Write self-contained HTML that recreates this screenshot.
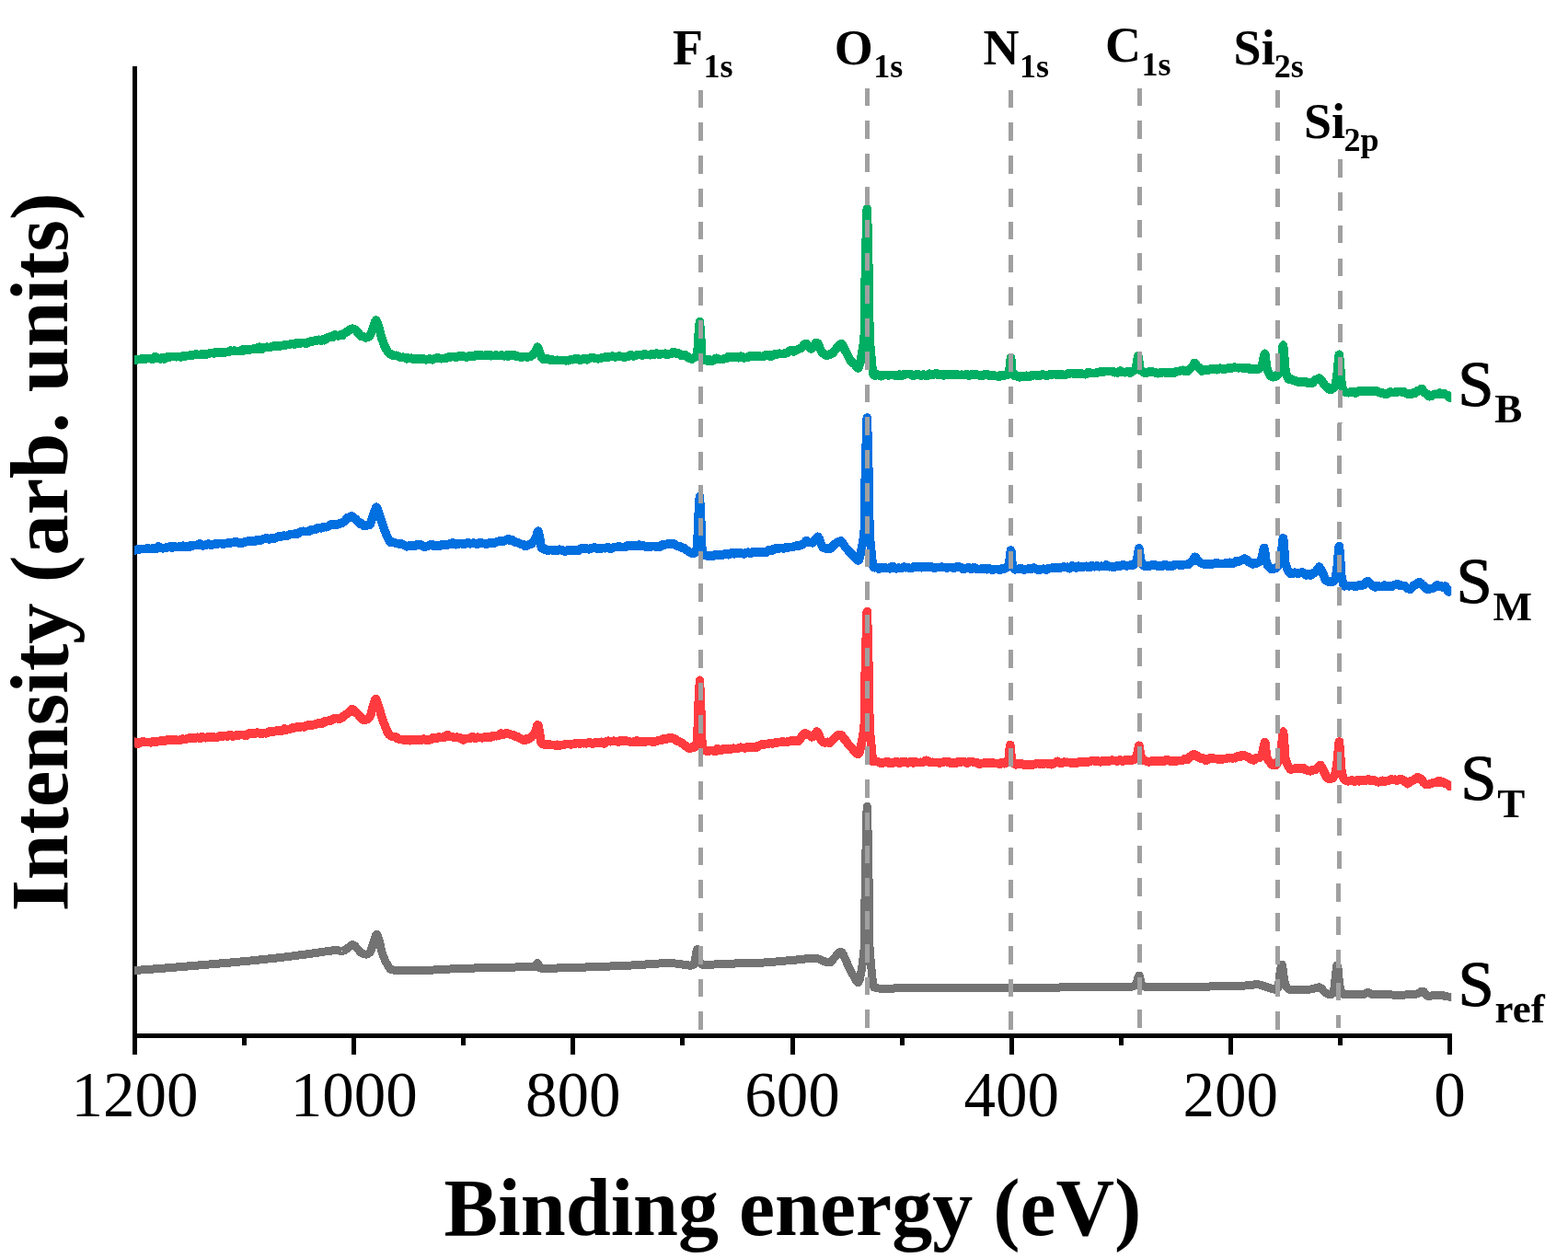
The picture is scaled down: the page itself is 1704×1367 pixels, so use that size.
<!DOCTYPE html>
<html lang="en">
<head>
<meta charset="utf-8">
<title>XPS survey spectra</title>
<style>
html,body{margin:0;padding:0;background:#fff;}
body{width:1704px;height:1367px;overflow:hidden;}
svg{display:block;}
text{font-family:"Liberation Serif","Times New Roman",serif;fill:#000;}
.b{font-weight:bold;}
.tick{font-size:69px;text-anchor:middle;}
.title{font-size:88px;font-weight:bold;text-anchor:middle;}
.pk{font-size:54px;font-weight:bold;}
.pk .s{font-size:36px;}
.lab{font-size:70.5px;stroke:#000;stroke-width:1px;stroke-linejoin:round;}
.lab .s{font-size:45px;font-weight:bold;stroke:none;}
.curve{shape-rendering:crispEdges;fill:none;stroke-width:9.5;stroke-linejoin:round;stroke-linecap:butt;}
.dash line{shape-rendering:crispEdges;stroke:#A0A0A0;stroke-width:5;stroke-dasharray:19.7 16.08;}
.ax rect{shape-rendering:crispEdges;fill:#000;}
</style>
</head>
<body>
<svg width="1704" height="1367" viewBox="0 0 1704 1367">
<rect width="1704" height="1367" fill="#fff"/>

<g class="ax">
<rect x="144" y="72" width="5" height="1056"/>
<rect x="144" y="1123" width="1434" height="5"/>
<rect x="144" y="1123" width="5" height="23"/>
<rect x="263" y="1123" width="5" height="13"/>
<rect x="382" y="1123" width="5" height="23"/>
<rect x="501" y="1123" width="5" height="13"/>
<rect x="620" y="1123" width="5" height="23"/>
<rect x="739" y="1123" width="5" height="13"/>
<rect x="859" y="1123" width="5" height="23"/>
<rect x="978" y="1123" width="5" height="13"/>
<rect x="1097" y="1123" width="5" height="23"/>
<rect x="1216" y="1123" width="5" height="13"/>
<rect x="1335" y="1123" width="5" height="23"/>
<rect x="1454" y="1123" width="5" height="13"/>
<rect x="1573" y="1123" width="5" height="23"/>
</g>
<clipPath id="plot"><rect x="146" y="60" width="1431.2" height="1062"/></clipPath>
<g class="curves" clip-path="url(#plot)">
<polyline class="curve" style="stroke-width:9" stroke="#737373" points="140.0,1054.9 141.2,1054.8 142.4,1054.8 143.6,1054.7 144.8,1054.6 146.0,1054.5 146.3,1054.5 147.2,1054.4 148.4,1054.4 149.6,1054.3 150.8,1054.2 152.0,1054.1 153.2,1054.0 154.4,1053.9 155.6,1053.8 156.8,1053.8 158.0,1053.7 159.2,1053.6 160.4,1053.5 161.6,1053.4 162.8,1053.3 164.0,1053.2 165.2,1053.1 166.4,1053.0 167.6,1052.9 168.8,1052.9 170.0,1052.8 171.2,1052.7 172.4,1052.6 173.6,1052.5 174.8,1052.4 176.0,1052.3 177.2,1052.2 178.4,1052.1 179.6,1052.0 180.8,1051.9 182.0,1051.8 183.2,1051.7 184.4,1051.6 185.6,1051.5 186.8,1051.4 188.0,1051.3 189.2,1051.2 190.4,1051.1 191.6,1051.0 192.8,1050.9 194.0,1050.8 195.2,1050.7 196.4,1050.6 197.6,1050.5 198.8,1050.4 200.0,1050.3 201.2,1050.2 202.4,1050.1 203.6,1050.0 204.8,1049.9 206.0,1049.8 207.2,1049.7 208.4,1049.6 209.6,1049.5 210.8,1049.4 212.0,1049.3 213.2,1049.2 214.4,1049.1 215.6,1049.0 216.8,1048.9 218.0,1048.8 219.2,1048.7 220.0,1048.6 220.4,1048.6 221.6,1048.5 222.8,1048.4 224.0,1048.3 225.2,1048.2 226.4,1048.1 227.6,1047.9 228.8,1047.8 230.0,1047.7 231.2,1047.6 232.4,1047.5 233.6,1047.4 234.8,1047.3 236.0,1047.2 237.2,1047.1 238.4,1047.0 239.6,1046.9 240.8,1046.8 242.0,1046.7 243.2,1046.6 244.4,1046.5 245.6,1046.4 246.8,1046.3 248.0,1046.2 249.2,1046.1 250.4,1046.0 251.6,1045.9 252.8,1045.7 254.0,1045.6 255.2,1045.5 256.4,1045.4 257.6,1045.3 258.8,1045.2 260.0,1045.1 261.2,1045.0 262.4,1044.9 263.6,1044.8 264.8,1044.6 266.0,1044.5 267.2,1044.4 268.4,1044.3 269.6,1044.2 270.8,1044.1 272.0,1044.0 273.2,1043.8 274.4,1043.7 275.6,1043.6 276.8,1043.5 278.0,1043.4 279.2,1043.3 280.4,1043.1 281.6,1043.0 282.8,1042.9 284.0,1042.8 285.2,1042.6 286.4,1042.5 287.6,1042.4 288.8,1042.3 290.0,1042.1 290.4,1042.1 291.2,1042.0 292.4,1041.9 293.6,1041.8 294.8,1041.6 296.0,1041.5 297.2,1041.4 298.4,1041.2 299.6,1041.1 300.8,1040.9 302.0,1040.8 303.2,1040.7 304.4,1040.5 305.6,1040.4 306.8,1040.2 308.0,1040.1 309.2,1040.0 310.4,1039.8 311.6,1039.7 312.8,1039.5 314.0,1039.4 315.2,1039.2 316.4,1039.1 317.6,1038.9 318.8,1038.8 320.0,1038.6 321.2,1038.5 322.4,1038.3 323.6,1038.2 324.8,1038.0 326.0,1037.8 327.2,1037.7 328.4,1037.5 329.6,1037.4 330.8,1037.2 332.0,1037.1 333.2,1036.9 334.4,1036.7 335.6,1036.6 336.8,1036.4 338.0,1036.3 339.2,1036.1 340.0,1036.0 340.4,1035.9 341.6,1035.8 342.8,1035.6 344.0,1035.4 345.2,1035.2 346.4,1035.0 347.6,1034.8 348.8,1034.7 350.0,1034.5 351.2,1034.3 352.4,1034.1 353.6,1033.9 354.8,1033.7 356.0,1033.6 357.2,1033.4 358.4,1033.3 359.6,1033.1 360.8,1033.0 360.8,1033.0 362.0,1032.9 363.2,1032.8 364.4,1032.7 365.6,1032.6 366.0,1032.6 366.8,1032.7 368.0,1032.9 369.2,1033.2 370.4,1033.4 371.5,1033.5 371.6,1033.5 372.8,1033.3 374.0,1032.8 375.2,1032.1 376.4,1031.3 377.0,1031.0 377.6,1030.6 378.8,1029.6 380.0,1028.5 381.2,1027.5 382.4,1026.8 383.4,1026.6 383.6,1026.6 384.8,1027.2 386.0,1028.3 387.2,1029.6 388.4,1030.9 388.5,1031.0 389.6,1032.2 390.8,1033.5 392.0,1034.8 393.0,1035.5 393.2,1035.6 394.4,1036.2 395.6,1036.7 396.8,1037.0 397.5,1037.1 398.0,1037.1 399.2,1036.8 400.4,1036.2 401.6,1035.3 402.0,1035.0 402.8,1033.7 404.0,1029.9 405.2,1025.9 405.5,1025.0 406.4,1022.3 407.6,1018.5 408.8,1015.8 409.4,1015.4 410.0,1016.0 411.2,1019.3 412.0,1022.0 412.4,1023.4 413.6,1028.4 414.8,1033.6 415.5,1036.0 416.0,1037.5 417.2,1040.6 418.4,1043.4 419.6,1045.8 420.0,1046.5 420.8,1047.9 422.0,1050.0 423.2,1051.8 424.4,1053.1 425.2,1053.5 425.6,1053.6 426.8,1053.9 428.0,1054.1 429.2,1054.3 430.0,1054.3 430.4,1054.3 431.6,1054.3 432.8,1054.3 434.0,1054.3 435.2,1054.3 436.4,1054.3 437.6,1054.4 438.8,1054.4 440.0,1054.4 441.2,1054.4 442.4,1054.4 443.6,1054.4 444.8,1054.4 446.0,1054.4 447.2,1054.4 448.4,1054.4 449.6,1054.4 450.8,1054.4 452.0,1054.4 453.2,1054.4 454.4,1054.4 455.6,1054.4 456.8,1054.4 457.0,1054.4 458.0,1054.4 459.2,1054.4 460.4,1054.4 461.6,1054.4 462.8,1054.3 464.0,1054.3 465.2,1054.3 466.4,1054.2 467.6,1054.2 468.8,1054.1 470.0,1054.1 471.2,1054.0 472.4,1053.9 473.6,1053.9 474.8,1053.8 476.0,1053.7 477.2,1053.7 478.4,1053.6 479.6,1053.5 480.8,1053.5 482.0,1053.4 483.2,1053.3 484.4,1053.2 485.6,1053.2 486.8,1053.1 488.0,1053.0 489.2,1053.0 490.4,1052.9 491.6,1052.8 492.8,1052.8 494.0,1052.7 495.2,1052.7 496.4,1052.6 497.6,1052.6 498.8,1052.5 499.2,1052.5 500.0,1052.5 501.2,1052.4 502.4,1052.4 503.6,1052.4 504.8,1052.3 506.0,1052.3 507.2,1052.2 508.4,1052.2 509.6,1052.2 510.8,1052.1 512.0,1052.1 513.2,1052.1 514.4,1052.0 515.6,1052.0 516.8,1051.9 518.0,1051.9 519.2,1051.9 520.4,1051.8 521.6,1051.8 522.8,1051.8 524.0,1051.7 525.2,1051.7 526.4,1051.7 527.6,1051.6 528.8,1051.6 530.0,1051.6 531.2,1051.5 532.4,1051.5 533.6,1051.5 534.8,1051.4 536.0,1051.4 537.2,1051.4 538.4,1051.4 539.6,1051.3 540.8,1051.3 542.0,1051.3 543.2,1051.2 544.4,1051.2 545.6,1051.2 546.8,1051.2 548.0,1051.1 549.2,1051.1 550.4,1051.1 551.6,1051.1 552.8,1051.1 554.0,1051.0 555.2,1051.0 556.4,1051.0 557.6,1051.0 558.8,1051.0 560.0,1051.0 561.2,1050.9 562.4,1050.9 563.6,1050.9 564.5,1050.9 564.8,1050.9 566.0,1050.9 567.2,1050.9 568.4,1050.9 569.6,1050.9 570.8,1050.9 572.0,1050.9 573.2,1050.9 574.4,1050.8 575.6,1050.8 576.8,1050.8 578.0,1050.8 578.5,1050.8 579.2,1050.8 580.4,1050.6 581.5,1050.4 581.6,1050.4 582.8,1048.1 583.9,1046.4 584.0,1046.4 585.2,1048.9 586.4,1051.5 586.5,1051.6 587.6,1052.0 588.8,1052.3 590.0,1052.5 591.2,1052.7 592.4,1052.7 592.5,1052.7 593.6,1052.7 594.8,1052.6 596.0,1052.5 597.2,1052.4 598.0,1052.3 598.4,1052.3 599.6,1052.2 600.8,1052.2 602.0,1052.1 603.2,1052.1 604.4,1052.0 605.6,1052.0 606.8,1051.9 608.0,1051.9 609.2,1051.9 610.4,1051.8 611.6,1051.8 612.8,1051.8 614.0,1051.7 615.2,1051.7 616.4,1051.7 617.6,1051.6 618.8,1051.6 620.0,1051.6 621.2,1051.5 622.4,1051.5 623.6,1051.4 624.8,1051.4 626.0,1051.4 627.2,1051.3 627.9,1051.3 628.4,1051.3 629.6,1051.2 630.8,1051.2 632.0,1051.2 633.2,1051.1 634.4,1051.1 635.6,1051.0 636.8,1051.0 638.0,1050.9 639.2,1050.9 640.4,1050.8 641.6,1050.8 642.8,1050.8 644.0,1050.7 645.2,1050.7 646.4,1050.6 647.6,1050.6 648.8,1050.5 650.0,1050.5 651.2,1050.4 652.4,1050.4 653.6,1050.3 654.8,1050.3 656.0,1050.2 657.2,1050.2 658.4,1050.1 659.6,1050.1 660.8,1050.1 662.0,1050.0 663.2,1050.0 664.4,1049.9 665.6,1049.9 666.8,1049.8 668.0,1049.8 669.2,1049.7 670.4,1049.7 671.6,1049.6 672.8,1049.6 674.0,1049.5 675.2,1049.4 676.4,1049.4 677.6,1049.3 678.8,1049.3 680.0,1049.2 681.2,1049.2 682.4,1049.1 683.6,1049.1 684.8,1049.0 686.0,1049.0 687.2,1048.9 688.4,1048.8 689.6,1048.8 690.8,1048.7 691.3,1048.7 692.0,1048.7 693.2,1048.6 694.4,1048.5 695.6,1048.5 696.8,1048.4 698.0,1048.3 699.2,1048.2 700.4,1048.1 701.6,1048.0 702.8,1047.9 704.0,1047.8 705.2,1047.7 706.4,1047.6 707.6,1047.6 708.8,1047.5 710.0,1047.4 711.2,1047.3 712.4,1047.2 713.6,1047.1 714.8,1047.0 716.0,1047.0 717.2,1046.9 718.4,1046.8 719.6,1046.8 720.8,1046.7 722.0,1046.7 723.2,1046.7 724.4,1046.6 725.6,1046.6 726.8,1046.6 727.2,1046.6 728.0,1046.6 729.2,1046.6 730.4,1046.7 731.6,1046.8 732.8,1046.9 734.0,1047.0 735.2,1047.1 736.4,1047.3 737.6,1047.5 738.8,1047.6 740.0,1047.8 741.2,1047.9 742.4,1048.1 743.6,1048.3 744.0,1048.3 744.8,1048.4 746.0,1048.6 747.2,1048.8 748.4,1049.0 749.6,1049.2 750.4,1049.2 750.8,1049.2 752.0,1049.0 753.2,1048.5 754.4,1047.6 754.5,1047.5 755.2,1044.0 755.6,1041.8 756.8,1034.4 757.8,1031.4 758.0,1031.6 759.2,1038.3 760.4,1045.6 760.6,1046.0 761.6,1047.0 762.8,1047.9 764.0,1048.3 764.2,1048.3 765.2,1048.3 766.4,1048.3 767.6,1048.3 768.8,1048.2 770.0,1048.2 771.2,1048.2 772.4,1048.1 773.6,1048.1 774.8,1048.0 776.0,1048.0 777.2,1047.9 778.4,1047.9 779.6,1047.8 780.8,1047.8 782.0,1047.7 783.2,1047.6 784.4,1047.6 785.6,1047.5 786.8,1047.4 788.0,1047.4 789.2,1047.3 790.4,1047.3 791.6,1047.2 792.8,1047.1 794.0,1047.1 795.2,1047.1 796.4,1047.0 797.0,1047.0 797.6,1047.0 798.8,1047.0 800.0,1046.9 801.2,1046.9 802.4,1046.9 803.6,1046.9 804.8,1046.8 806.0,1046.8 807.2,1046.8 808.4,1046.8 809.6,1046.7 810.8,1046.7 812.0,1046.7 813.2,1046.7 814.4,1046.6 815.6,1046.6 816.8,1046.6 818.0,1046.6 819.2,1046.5 820.0,1046.5 820.4,1046.5 821.6,1046.4 822.8,1046.4 824.0,1046.3 825.2,1046.3 826.4,1046.2 827.6,1046.2 828.8,1046.1 830.0,1046.0 831.2,1045.9 832.4,1045.9 833.6,1045.8 834.8,1045.7 836.0,1045.6 837.2,1045.5 838.4,1045.4 839.6,1045.3 840.8,1045.2 842.0,1045.1 843.2,1045.0 844.4,1044.9 845.6,1044.8 846.8,1044.7 848.0,1044.6 849.2,1044.5 850.4,1044.4 851.6,1044.2 852.8,1044.1 854.0,1044.0 855.2,1043.9 856.4,1043.8 857.6,1043.7 858.8,1043.6 860.0,1043.5 861.2,1043.4 862.3,1043.3 862.4,1043.3 863.6,1043.2 864.8,1043.1 866.0,1042.9 867.2,1042.8 868.4,1042.7 869.6,1042.5 870.8,1042.4 872.0,1042.2 873.2,1042.1 874.4,1042.0 875.6,1041.8 876.8,1041.7 878.0,1041.6 879.2,1041.5 880.4,1041.4 881.6,1041.3 882.8,1041.3 884.0,1041.2 885.2,1041.2 885.5,1041.2 886.4,1041.2 887.6,1041.4 888.8,1041.7 890.0,1042.1 891.2,1042.6 892.4,1043.1 893.6,1043.7 894.8,1044.2 896.0,1044.7 897.2,1045.2 898.4,1045.6 899.6,1045.8 900.8,1046.0 901.3,1046.0 902.0,1045.8 903.2,1044.9 904.4,1043.6 905.6,1042.1 906.6,1041.0 906.8,1040.8 908.0,1039.5 909.2,1038.1 910.4,1036.7 911.6,1035.5 912.8,1034.6 914.0,1034.3 914.0,1034.3 915.2,1035.2 916.4,1037.3 917.6,1040.1 918.8,1042.9 919.3,1044.0 920.0,1045.4 921.2,1048.0 922.4,1050.7 923.6,1053.2 924.0,1054.0 924.8,1055.5 926.0,1057.8 927.2,1059.9 928.4,1061.8 928.5,1062.0 929.6,1063.9 930.8,1066.1 932.0,1067.4 932.5,1067.6 933.2,1067.0 934.4,1063.7 935.6,1058.0 936.8,1050.4 938.0,1041.7 938.3,1039.5 939.2,1030.0 939.4,1026.2 940.2,961.7 940.4,952.6 941.6,895.4 941.6,893.5 942.2,876.4 942.8,893.9 942.9,895.8 944.0,954.2 944.2,963.5 945.0,1029.3 945.2,1033.1 946.1,1042.9 946.4,1046.2 947.6,1059.8 948.8,1070.2 949.5,1072.5 950.0,1072.8 951.2,1073.3 952.4,1073.7 953.6,1073.9 954.8,1074.0 955.2,1074.0 956.0,1074.0 957.2,1074.0 958.4,1074.0 959.6,1074.0 960.8,1074.0 962.0,1074.0 963.2,1074.0 964.4,1074.0 965.6,1074.0 966.8,1074.0 968.0,1074.0 969.2,1074.0 970.4,1074.0 971.6,1074.0 972.8,1073.9 974.0,1073.9 975.2,1073.9 976.4,1073.9 977.6,1073.9 978.8,1073.9 980.0,1073.9 981.2,1073.9 982.4,1073.9 983.6,1073.9 984.8,1073.9 986.0,1073.9 987.2,1073.9 988.4,1073.8 989.6,1073.8 990.8,1073.8 992.0,1073.8 993.2,1073.8 994.4,1073.8 995.6,1073.8 996.8,1073.8 998.0,1073.8 999.2,1073.8 1000.4,1073.7 1001.6,1073.7 1002.8,1073.7 1004.0,1073.7 1005.2,1073.7 1006.4,1073.7 1007.6,1073.7 1008.8,1073.7 1010.0,1073.7 1011.2,1073.6 1012.4,1073.6 1013.6,1073.6 1014.8,1073.6 1016.0,1073.6 1017.2,1073.6 1018.4,1073.6 1019.6,1073.6 1020.8,1073.6 1022.0,1073.6 1023.2,1073.6 1024.4,1073.5 1025.6,1073.5 1026.8,1073.5 1028.0,1073.5 1029.2,1073.5 1030.4,1073.5 1031.3,1073.5 1031.6,1073.5 1032.8,1073.5 1034.0,1073.5 1035.2,1073.5 1036.4,1073.5 1037.6,1073.5 1038.8,1073.5 1040.0,1073.5 1041.2,1073.4 1042.4,1073.4 1043.6,1073.4 1044.8,1073.4 1046.0,1073.4 1047.2,1073.4 1048.4,1073.4 1049.6,1073.4 1050.8,1073.4 1052.0,1073.4 1053.2,1073.4 1054.4,1073.4 1055.6,1073.4 1056.8,1073.4 1058.0,1073.4 1059.2,1073.4 1060.4,1073.4 1061.6,1073.4 1062.8,1073.3 1064.0,1073.3 1065.2,1073.3 1066.4,1073.3 1067.6,1073.3 1068.8,1073.3 1070.0,1073.3 1071.2,1073.3 1072.4,1073.3 1073.6,1073.3 1074.8,1073.3 1076.0,1073.3 1077.2,1073.3 1078.4,1073.3 1079.6,1073.3 1080.8,1073.3 1082.0,1073.3 1083.2,1073.3 1084.4,1073.3 1085.6,1073.3 1086.8,1073.2 1088.0,1073.2 1089.2,1073.2 1090.4,1073.2 1091.6,1073.2 1092.8,1073.2 1094.0,1073.2 1095.2,1073.2 1096.4,1073.2 1097.6,1073.2 1098.8,1073.2 1100.0,1073.2 1101.2,1073.2 1102.4,1073.2 1103.6,1073.2 1104.8,1073.2 1106.0,1073.2 1107.2,1073.2 1108.4,1073.2 1109.6,1073.2 1110.8,1073.2 1112.0,1073.1 1113.2,1073.1 1114.4,1073.1 1115.6,1073.1 1116.8,1073.1 1118.0,1073.1 1119.2,1073.1 1120.4,1073.1 1121.6,1073.1 1122.8,1073.1 1124.0,1073.1 1125.2,1073.1 1126.4,1073.1 1127.6,1073.1 1128.8,1073.1 1130.0,1073.1 1131.2,1073.1 1132.4,1073.1 1133.6,1073.0 1134.8,1073.0 1136.0,1073.0 1137.2,1073.0 1138.4,1073.0 1139.6,1073.0 1140.8,1073.0 1142.0,1073.0 1143.2,1073.0 1144.4,1073.0 1145.6,1073.0 1146.8,1073.0 1148.0,1073.0 1149.2,1073.0 1150.4,1073.0 1151.6,1073.0 1152.8,1072.9 1154.0,1072.9 1155.2,1072.9 1156.4,1072.9 1157.6,1072.9 1158.8,1072.9 1160.0,1072.9 1160.0,1072.9 1161.2,1072.9 1162.4,1072.9 1163.6,1072.9 1164.8,1072.9 1166.0,1072.9 1167.2,1072.9 1168.4,1072.9 1169.6,1072.8 1170.8,1072.8 1172.0,1072.8 1173.2,1072.8 1174.4,1072.8 1175.6,1072.8 1176.8,1072.8 1178.0,1072.8 1179.2,1072.8 1180.4,1072.8 1181.6,1072.8 1182.8,1072.8 1184.0,1072.8 1185.2,1072.8 1186.4,1072.8 1187.6,1072.8 1188.8,1072.8 1190.0,1072.8 1191.2,1072.8 1192.4,1072.8 1193.6,1072.7 1194.8,1072.7 1196.0,1072.7 1197.2,1072.7 1198.4,1072.7 1199.6,1072.7 1200.8,1072.7 1202.0,1072.7 1203.2,1072.7 1204.4,1072.7 1205.6,1072.7 1206.8,1072.6 1208.0,1072.6 1209.2,1072.6 1210.4,1072.6 1211.6,1072.6 1212.8,1072.6 1214.0,1072.6 1215.2,1072.5 1216.4,1072.5 1217.6,1072.5 1218.8,1072.5 1220.0,1072.5 1221.2,1072.4 1222.4,1072.4 1223.6,1072.4 1224.8,1072.4 1226.0,1072.3 1227.2,1072.3 1227.6,1072.3 1228.4,1072.3 1229.6,1072.1 1230.8,1071.9 1232.0,1071.5 1233.2,1070.9 1234.0,1070.5 1234.4,1070.0 1235.2,1068.0 1235.6,1066.8 1236.8,1062.1 1237.8,1060.0 1238.0,1060.1 1239.2,1064.4 1240.4,1069.2 1240.6,1069.5 1241.6,1070.5 1242.8,1071.4 1244.0,1072.0 1245.2,1072.3 1245.6,1072.3 1246.4,1072.3 1247.6,1072.3 1248.8,1072.3 1250.0,1072.3 1251.2,1072.3 1252.4,1072.3 1253.6,1072.3 1254.8,1072.3 1256.0,1072.3 1257.2,1072.3 1258.4,1072.3 1259.6,1072.3 1260.8,1072.3 1262.0,1072.3 1263.2,1072.3 1264.4,1072.3 1265.6,1072.3 1266.8,1072.3 1268.0,1072.3 1269.2,1072.3 1270.4,1072.3 1271.6,1072.2 1272.8,1072.2 1274.0,1072.2 1275.2,1072.2 1276.4,1072.2 1277.6,1072.2 1278.8,1072.2 1280.0,1072.2 1281.2,1072.2 1282.4,1072.2 1283.6,1072.2 1284.8,1072.2 1286.0,1072.2 1287.2,1072.2 1288.4,1072.2 1289.6,1072.2 1290.8,1072.1 1292.0,1072.1 1293.2,1072.1 1294.4,1072.1 1295.6,1072.1 1296.8,1072.1 1298.0,1072.1 1299.2,1072.1 1300.4,1072.1 1301.6,1072.1 1302.8,1072.1 1304.0,1072.1 1305.2,1072.0 1306.4,1072.0 1307.6,1072.0 1308.8,1072.0 1310.0,1072.0 1311.2,1072.0 1312.4,1072.0 1313.6,1072.0 1314.8,1072.0 1316.0,1071.9 1317.2,1071.9 1318.4,1071.9 1319.6,1071.9 1320.8,1071.9 1322.0,1071.9 1323.2,1071.9 1324.4,1071.9 1325.6,1071.8 1326.8,1071.8 1328.0,1071.8 1329.0,1071.8 1329.2,1071.8 1330.4,1071.8 1331.6,1071.8 1332.8,1071.7 1334.0,1071.7 1335.2,1071.7 1336.4,1071.7 1337.6,1071.6 1338.8,1071.6 1340.0,1071.6 1341.2,1071.5 1342.4,1071.5 1343.6,1071.4 1344.8,1071.4 1346.0,1071.3 1347.2,1071.3 1348.4,1071.2 1349.6,1071.2 1350.8,1071.1 1352.0,1071.1 1353.2,1071.0 1354.4,1070.9 1355.6,1070.9 1356.5,1070.8 1356.8,1070.8 1358.0,1070.7 1359.2,1070.5 1360.4,1070.3 1361.6,1070.1 1362.8,1069.9 1364.0,1069.8 1365.2,1069.7 1366.0,1069.7 1366.4,1069.7 1367.6,1069.8 1368.8,1070.0 1370.0,1070.3 1371.2,1070.7 1372.4,1071.1 1373.6,1071.5 1374.8,1072.0 1376.0,1072.4 1377.2,1072.8 1377.6,1072.9 1378.4,1073.1 1379.6,1073.6 1380.8,1074.0 1382.0,1074.4 1383.2,1074.8 1384.4,1075.0 1385.0,1075.0 1385.6,1075.0 1386.8,1074.7 1388.0,1073.9 1389.2,1072.5 1389.5,1072.0 1390.0,1066.0 1390.4,1062.5 1391.6,1053.1 1392.8,1048.1 1393.0,1048.0 1394.0,1051.9 1395.2,1061.9 1396.4,1069.0 1396.4,1069.0 1397.6,1071.5 1398.8,1073.3 1400.0,1074.6 1400.9,1075.0 1401.2,1075.1 1402.4,1075.3 1403.6,1075.5 1404.8,1075.6 1405.0,1075.6 1406.0,1075.6 1407.2,1075.6 1408.4,1075.6 1409.6,1075.6 1410.8,1075.5 1412.0,1075.5 1413.2,1075.5 1414.4,1075.4 1415.6,1075.4 1416.8,1075.4 1418.0,1075.3 1419.2,1075.3 1420.4,1075.2 1421.6,1075.1 1422.8,1075.1 1424.0,1075.0 1424.0,1075.0 1425.2,1074.9 1426.4,1074.6 1427.6,1074.3 1428.8,1073.9 1430.0,1073.5 1431.2,1073.2 1432.4,1073.0 1433.6,1072.9 1433.6,1072.9 1434.8,1073.3 1436.0,1074.2 1437.2,1075.5 1438.4,1076.9 1439.6,1078.2 1440.8,1079.1 1441.0,1079.2 1442.0,1079.7 1443.2,1080.2 1444.4,1080.6 1445.2,1080.7 1445.6,1080.7 1446.8,1080.4 1448.0,1079.7 1449.2,1078.4 1449.5,1078.0 1450.4,1070.0 1450.4,1070.0 1451.6,1058.4 1452.8,1049.6 1453.2,1048.8 1454.0,1052.5 1455.2,1065.3 1456.2,1073.0 1456.4,1073.6 1457.6,1077.0 1458.8,1079.4 1460.0,1080.3 1460.0,1080.3 1461.2,1080.4 1462.4,1080.4 1463.6,1080.5 1464.8,1080.5 1466.0,1080.5 1467.2,1080.6 1468.4,1080.6 1469.6,1080.6 1470.8,1080.6 1472.0,1080.7 1473.2,1080.7 1474.4,1080.7 1475.6,1080.7 1476.8,1080.7 1478.0,1080.7 1479.2,1080.7 1480.4,1080.7 1481.0,1080.7 1481.6,1080.6 1482.8,1080.1 1484.0,1079.4 1485.2,1078.7 1486.4,1078.4 1486.5,1078.4 1487.6,1078.7 1488.8,1079.5 1490.0,1080.2 1491.0,1080.5 1491.2,1080.5 1492.4,1080.6 1493.6,1080.6 1494.8,1080.6 1496.0,1080.7 1497.2,1080.7 1498.4,1080.7 1499.6,1080.8 1500.8,1080.8 1502.0,1080.8 1503.2,1080.8 1504.4,1080.9 1505.6,1080.9 1506.8,1080.9 1508.0,1080.9 1509.2,1080.9 1510.4,1080.9 1511.6,1080.9 1512.8,1081.0 1514.0,1081.0 1515.2,1081.0 1516.4,1081.0 1517.6,1081.0 1518.8,1081.0 1520.0,1081.0 1521.2,1081.0 1522.4,1081.0 1523.6,1081.0 1524.8,1081.0 1525.0,1081.0 1526.0,1081.0 1527.2,1081.0 1528.4,1080.9 1529.6,1080.9 1530.8,1080.8 1532.0,1080.7 1533.2,1080.6 1534.4,1080.5 1535.6,1080.4 1536.8,1080.3 1538.0,1080.2 1539.2,1080.0 1539.2,1080.0 1540.4,1079.7 1541.6,1079.1 1542.8,1078.4 1544.0,1077.7 1545.2,1077.2 1546.3,1077.0 1546.4,1077.0 1547.6,1077.8 1548.8,1079.4 1550.0,1081.1 1551.2,1082.2 1551.6,1082.3 1552.4,1082.3 1553.6,1082.2 1554.8,1082.1 1556.0,1081.9 1557.2,1081.7 1558.4,1081.6 1559.6,1081.4 1560.8,1081.2 1562.0,1081.1 1563.2,1081.0 1564.0,1081.0 1564.4,1081.0 1565.6,1081.1 1566.8,1081.4 1568.0,1081.7 1569.2,1082.1 1570.4,1082.4 1571.6,1082.7 1572.8,1082.9 1573.0,1082.9 1574.0,1083.0 1575.2,1083.0 1576.4,1083.1 1577.6,1083.1 1578.8,1083.1 1580.0,1083.2 1581.2,1083.2"/>
<polyline class="curve" stroke="#FF3B3F" points="140.0,808.1 141.2,807.0 142.4,807.0 143.6,807.2 144.8,807.0 146.0,806.6 146.3,806.2 147.2,806.4 148.4,807.5 149.6,808.5 150.8,807.8 152.0,806.7 153.2,806.4 154.4,806.1 155.6,805.9 156.8,806.2 158.0,806.5 159.2,806.6 160.4,806.6 161.6,806.3 162.8,806.4 164.0,806.9 165.2,806.4 166.4,805.7 167.6,805.7 168.8,806.3 170.0,806.5 171.2,805.7 172.4,805.4 173.6,805.5 174.8,804.9 176.0,804.9 177.2,805.5 178.4,805.4 179.6,805.1 180.8,804.4 182.0,803.7 182.3,804.2 183.2,803.9 184.4,803.5 185.6,804.3 186.8,804.6 188.0,803.9 189.2,803.5 190.4,803.7 191.6,804.2 192.8,804.6 194.0,804.5 195.2,804.2 196.4,804.1 197.6,803.4 198.8,803.0 200.0,803.5 201.2,803.5 202.4,802.9 203.6,802.6 204.8,802.2 206.0,801.8 207.2,802.6 208.4,802.6 209.6,801.9 210.8,801.8 212.0,802.1 213.2,801.9 214.4,801.2 215.6,801.3 216.8,802.4 218.0,802.1 219.2,800.9 220.4,801.0 221.6,801.5 222.8,801.7 224.0,801.8 224.5,801.3 225.2,801.0 226.4,801.2 227.6,801.6 228.8,801.3 230.0,800.4 231.2,800.4 232.4,801.4 233.6,801.7 234.8,801.5 236.0,801.4 237.2,800.8 238.4,800.0 239.6,799.6 240.8,800.0 242.0,800.3 243.2,799.6 244.4,799.3 245.6,799.7 246.8,800.0 248.0,799.8 249.2,798.8 250.4,798.4 251.6,799.3 252.8,800.1 254.0,800.0 255.2,799.4 256.4,799.1 257.6,799.0 258.8,799.0 260.0,798.9 261.2,798.5 262.4,798.4 263.6,798.6 264.8,798.7 266.0,799.1 266.8,799.8 267.2,799.8 268.4,798.6 269.6,797.2 270.8,797.0 272.0,797.4 273.2,797.1 274.4,796.8 275.6,797.6 276.8,797.7 278.0,796.5 279.2,796.0 280.4,796.2 281.6,796.6 282.8,797.3 284.0,797.5 285.2,796.8 286.4,796.5 287.6,796.6 288.8,796.9 290.0,796.7 291.2,796.1 292.4,795.1 293.6,794.6 294.8,795.0 296.0,795.5 297.2,795.3 298.4,794.4 299.6,794.2 300.8,794.2 302.0,793.6 303.2,793.4 304.4,794.3 305.6,794.7 306.8,793.7 308.0,792.6 309.0,792.0 309.2,792.2 310.4,792.9 311.6,793.1 312.8,792.7 314.0,792.4 315.2,792.2 316.4,791.5 317.6,790.8 318.8,790.8 320.0,790.9 321.2,790.5 322.4,790.1 323.6,789.9 324.8,790.1 326.0,790.2 327.2,789.7 328.4,789.6 329.6,789.8 330.8,789.9 332.0,789.3 333.2,788.2 334.4,788.1 335.6,788.0 336.8,787.9 338.0,788.2 339.2,788.2 340.4,787.8 341.6,787.4 342.8,787.2 344.0,786.4 345.2,786.0 346.4,785.8 347.6,785.8 348.8,786.2 350.0,786.3 351.2,785.8 351.3,784.9 352.4,784.1 353.6,784.1 354.8,783.9 356.0,783.3 357.2,783.0 358.4,783.1 359.6,782.9 360.8,782.3 362.0,781.9 362.0,781.4 363.2,780.7 364.4,780.4 365.6,780.3 366.8,780.8 368.0,781.1 369.2,780.7 370.3,780.6 370.4,780.8 371.6,779.9 372.8,778.8 374.0,777.6 375.2,776.7 376.4,776.0 377.0,775.6 377.6,775.4 378.8,774.6 380.0,773.3 381.2,771.9 382.4,770.8 383.0,770.8 383.6,770.9 384.8,771.8 386.0,773.2 387.2,774.6 388.0,775.3 388.4,775.6 389.6,776.9 390.8,778.2 392.0,779.5 392.5,780.2 393.2,781.4 394.4,782.0 395.6,781.6 396.8,782.0 397.0,782.1 398.0,781.9 399.2,781.7 400.4,780.5 401.5,779.3 401.6,779.5 402.8,776.9 404.0,772.4 405.0,768.9 405.2,768.4 406.4,764.3 407.6,760.6 408.3,759.6 408.8,760.3 410.0,763.2 411.0,766.2 411.2,766.6 412.4,770.4 413.6,774.9 414.5,778.1 414.8,779.1 416.0,782.6 417.2,785.8 418.4,788.8 418.5,789.2 419.6,791.9 420.8,794.7 422.0,797.0 423.1,798.5 423.2,798.3 424.4,799.1 425.6,800.2 426.8,800.5 428.0,800.4 429.2,800.4 430.4,800.9 431.0,801.8 431.6,802.4 432.8,802.9 434.0,803.3 435.2,803.3 436.4,803.4 437.6,803.8 438.8,803.9 440.0,803.8 440.0,804.1 441.2,804.4 442.4,804.0 443.6,803.7 444.8,804.5 446.0,804.8 447.2,804.2 448.4,803.7 449.6,804.1 450.8,804.0 452.0,803.5 453.2,804.0 454.4,804.5 455.6,804.2 456.8,804.6 457.0,804.5 458.0,803.9 459.2,803.6 460.4,803.1 461.6,803.7 462.8,804.3 464.0,804.2 465.2,804.3 466.4,804.1 467.6,803.8 468.8,803.0 470.0,801.9 471.2,802.2 472.4,802.5 473.6,801.9 474.8,801.7 475.0,802.2 476.0,801.7 477.2,800.9 478.4,801.2 479.6,801.4 480.8,801.1 482.0,801.2 483.2,801.1 484.4,800.0 485.6,798.9 486.5,798.8 486.8,799.6 488.0,800.3 489.2,800.5 490.4,800.5 491.6,800.7 492.8,801.0 494.0,801.3 495.2,801.3 496.4,801.1 497.6,801.2 498.8,801.6 499.2,801.6 500.0,801.9 501.2,802.6 502.4,803.3 503.6,804.0 504.8,803.4 506.0,802.5 507.2,802.6 508.4,802.5 509.6,802.2 510.8,802.3 512.0,801.2 513.2,800.6 514.4,801.4 515.6,802.1 516.8,802.2 518.0,801.4 519.2,801.2 520.4,801.7 521.6,801.3 522.8,801.5 524.0,802.0 525.2,801.5 526.4,801.0 527.6,801.1 528.8,801.0 530.0,800.6 531.2,800.8 532.4,801.4 532.8,801.6 533.6,800.5 534.8,799.8 536.0,800.0 537.2,799.9 538.4,799.7 539.6,799.8 540.8,799.6 542.0,798.9 543.2,797.9 544.4,797.1 545.6,797.6 546.8,798.5 548.0,797.8 549.2,797.0 550.4,797.1 551.6,797.7 552.8,797.5 553.0,797.2 554.0,797.8 555.2,798.3 556.4,798.4 557.6,798.8 558.8,799.8 560.0,800.1 561.2,800.1 562.4,800.5 563.6,801.3 564.8,802.2 566.0,802.7 567.2,803.4 568.4,804.0 569.6,804.4 570.8,804.2 570.9,803.2 572.0,802.6 573.2,803.0 574.4,803.1 575.6,802.4 576.8,801.5 578.0,800.3 578.0,800.1 579.2,799.3 580.4,798.0 581.5,796.1 581.6,795.6 582.8,791.8 584.0,788.0 584.6,788.0 585.2,788.8 586.4,795.9 586.6,797.1 587.6,804.1 588.2,806.8 588.8,807.7 590.0,808.6 591.2,809.0 592.4,808.8 593.0,808.8 593.6,809.3 594.8,809.7 596.0,809.4 597.2,808.7 598.4,809.2 599.6,809.7 600.8,809.4 602.0,809.6 603.2,810.0 604.4,809.7 605.6,809.2 606.8,809.4 606.8,810.2 608.0,810.3 609.2,809.8 610.4,809.5 611.6,809.7 612.8,809.6 614.0,808.7 615.2,808.3 616.4,808.6 617.6,808.4 618.8,808.5 620.0,808.9 621.2,808.8 622.4,808.5 623.6,808.3 624.8,808.0 626.0,807.9 627.2,807.4 628.4,807.4 629.6,808.1 630.8,807.8 632.0,807.4 633.2,807.5 634.4,807.8 635.6,807.7 636.8,807.8 638.0,807.8 639.2,807.1 640.4,806.7 641.6,807.1 642.8,807.7 644.0,808.0 645.2,807.8 646.4,807.1 647.6,806.9 648.8,807.0 649.0,806.9 650.0,807.1 651.2,807.0 652.4,806.4 653.6,806.2 654.8,806.8 656.0,807.8 657.2,807.9 658.4,806.8 659.6,805.6 660.8,805.1 662.0,805.6 663.2,805.8 664.4,805.6 665.6,805.7 666.8,805.2 668.0,805.4 669.2,805.5 670.4,805.3 671.6,806.0 672.8,806.0 674.0,804.8 675.2,804.6 676.4,805.4 677.6,805.3 678.8,804.7 680.0,804.9 681.2,805.2 682.4,805.4 683.6,805.7 684.8,806.1 686.0,806.5 687.2,806.5 688.4,806.1 689.6,806.2 690.8,806.3 691.3,805.6 692.0,805.0 693.2,805.3 694.4,805.9 695.6,806.1 696.8,805.8 698.0,805.6 699.2,806.0 700.4,806.3 701.6,805.8 702.8,805.4 704.0,805.4 705.2,805.4 706.4,805.5 707.6,805.6 708.8,806.2 710.0,806.5 711.2,805.9 712.4,805.5 712.4,805.7 713.6,805.5 714.8,804.8 716.0,804.4 717.2,804.6 718.4,804.5 719.6,803.8 720.8,802.9 722.0,802.5 723.2,802.9 724.4,803.0 725.6,802.5 726.8,802.1 727.2,801.8 728.0,801.4 729.2,801.5 730.4,802.1 731.6,802.7 732.8,802.8 734.0,803.2 735.2,804.7 736.4,805.6 737.6,805.7 738.8,806.2 740.0,807.1 741.2,807.4 742.0,807.7 742.4,808.3 743.6,809.3 744.8,810.4 746.0,811.3 747.2,812.0 748.4,812.9 749.4,813.2 749.6,812.7 750.8,812.4 752.0,811.9 753.2,811.7 754.4,812.0 755.5,811.5 755.6,811.2 756.8,808.1 757.5,805.0 758.0,798.2 759.2,763.2 760.4,741.2 760.4,739.2 761.6,766.7 762.8,805.7 763.3,812.0 764.0,813.2 765.2,814.7 766.4,815.6 767.3,815.6 767.6,815.9 768.8,816.3 770.0,816.2 771.2,815.8 772.4,815.5 773.6,815.5 774.8,815.6 776.0,816.4 777.2,816.5 778.4,814.7 779.6,813.5 780.8,814.1 782.0,814.9 783.2,815.3 784.4,814.9 785.6,813.9 786.4,813.8 786.8,814.2 788.0,814.0 789.2,814.1 790.4,814.1 791.6,814.2 792.8,814.3 794.0,814.3 795.2,813.8 796.4,813.2 797.6,813.2 798.8,813.4 800.0,813.6 801.2,813.6 802.4,813.0 803.6,812.3 804.8,812.2 806.0,812.6 807.2,812.7 808.4,812.6 809.6,812.9 810.8,812.7 812.0,811.9 813.2,811.5 814.4,812.0 815.6,811.8 816.8,811.3 818.0,812.1 818.0,812.8 819.2,812.1 820.4,812.1 821.6,812.6 822.8,811.8 824.0,810.4 825.2,810.1 826.4,809.9 827.6,809.1 828.8,808.5 830.0,808.8 831.2,808.8 832.4,808.5 833.6,808.5 834.8,808.4 836.0,807.7 837.2,807.3 838.4,807.8 839.6,807.9 840.8,807.5 841.0,807.6 842.0,807.2 843.2,807.0 844.4,807.1 845.6,806.8 846.8,806.7 848.0,806.6 849.2,806.2 850.4,805.7 851.6,805.9 852.8,806.6 854.0,806.6 855.2,806.1 856.4,806.0 857.6,805.8 858.8,805.1 860.0,804.9 861.2,805.2 862.4,805.0 863.6,804.9 864.8,805.0 866.0,805.0 866.5,805.3 867.2,805.6 868.4,804.5 869.6,802.9 870.8,801.3 871.0,800.5 872.0,799.5 873.2,798.3 874.4,797.1 875.6,796.9 876.6,797.9 876.8,798.5 878.0,798.4 879.2,798.7 880.4,799.7 881.6,800.5 882.3,800.9 882.8,800.8 884.0,799.7 885.2,797.9 886.4,796.3 887.6,795.8 887.6,795.0 888.8,795.6 890.0,798.4 891.2,801.6 892.4,804.4 893.6,805.9 894.0,805.7 894.8,806.3 896.0,807.0 897.2,806.8 898.4,806.3 899.6,806.2 900.8,807.0 901.3,807.6 902.0,807.3 903.2,806.0 904.4,804.6 905.6,803.7 906.8,802.4 907.0,802.1 908.0,801.1 909.2,799.6 910.4,798.9 911.6,798.7 912.8,798.9 913.0,799.2 914.0,798.9 915.2,799.6 916.4,801.5 917.6,803.5 918.0,803.9 918.8,804.3 920.0,805.8 921.2,807.8 922.4,809.5 923.5,810.4 923.6,810.5 924.8,811.9 926.0,812.7 927.2,814.4 928.4,816.5 929.0,816.8 929.6,817.0 930.8,818.3 932.0,819.4 932.5,819.3 933.2,818.9 934.4,816.1 935.6,811.2 936.8,804.9 938.0,797.6 938.3,795.7 939.2,788.1 939.4,785.1 940.2,733.3 940.4,726.0 941.6,680.1 941.6,678.6 942.2,664.5 942.8,679.3 942.9,680.9 944.0,729.2 944.2,736.9 945.0,791.4 945.2,794.5 946.1,802.6 946.4,805.6 947.6,818.8 948.8,827.4 949.0,827.4 950.0,827.2 951.2,827.3 952.4,827.4 953.6,827.6 954.8,827.9 955.2,828.3 956.0,828.9 957.2,829.5 958.4,829.3 959.6,829.0 960.8,828.7 962.0,828.3 963.2,827.7 964.4,827.5 965.6,828.6 966.8,829.5 968.0,829.1 969.2,828.8 970.4,829.1 971.6,828.6 972.8,827.9 974.0,827.6 975.2,827.7 976.4,828.7 977.6,829.4 978.8,828.6 980.0,827.8 981.2,827.9 982.4,827.8 983.6,827.6 984.8,828.3 986.0,828.9 987.2,828.9 988.4,828.5 989.6,827.5 990.8,827.6 992.0,828.9 993.2,828.9 994.4,828.0 995.6,828.1 996.8,828.6 998.0,828.7 999.2,828.5 1000.4,828.2 1001.6,828.3 1002.8,828.4 1004.0,827.9 1005.2,826.7 1006.4,826.2 1007.6,826.8 1008.8,827.4 1010.0,828.2 1011.2,828.7 1012.4,828.5 1013.6,828.2 1014.8,828.5 1016.0,828.6 1017.2,828.4 1018.4,828.7 1019.6,828.8 1020.8,828.9 1022.0,828.8 1023.2,828.4 1024.4,828.3 1025.6,827.8 1026.8,827.4 1028.0,827.6 1029.2,827.9 1030.4,827.9 1031.3,827.7 1031.6,827.9 1032.8,828.9 1034.0,829.4 1035.2,829.2 1036.4,829.2 1037.6,829.4 1038.8,829.5 1040.0,828.5 1041.2,827.9 1042.4,828.7 1043.6,828.4 1044.8,827.7 1046.0,827.5 1047.2,827.5 1048.4,827.8 1049.6,828.4 1050.8,829.2 1052.0,828.9 1053.2,827.7 1054.4,827.5 1055.6,827.7 1056.8,827.7 1058.0,828.4 1059.2,828.7 1060.4,828.5 1061.6,828.7 1062.8,829.5 1064.0,830.3 1065.2,830.2 1066.4,829.8 1067.6,829.5 1068.8,829.2 1070.0,829.1 1071.2,829.2 1072.4,829.2 1073.6,828.8 1074.8,828.7 1076.0,829.4 1077.2,829.5 1078.4,828.9 1079.6,829.0 1080.8,829.6 1082.0,829.6 1083.2,829.3 1084.4,829.5 1085.6,829.9 1086.8,830.4 1088.0,830.0 1088.3,828.7 1089.2,828.3 1090.4,829.3 1091.6,829.8 1092.8,829.4 1094.0,828.6 1094.5,827.7 1095.2,826.9 1096.0,825.0 1096.4,822.4 1097.6,810.5 1097.8,809.6 1098.8,819.4 1099.6,827.0 1100.0,827.8 1101.2,829.0 1102.4,829.4 1102.5,829.9 1103.6,830.9 1104.8,830.8 1105.2,830.1 1106.0,829.8 1107.2,830.3 1108.4,830.7 1109.6,830.0 1110.8,830.0 1112.0,831.0 1113.2,831.3 1114.4,831.0 1115.6,831.1 1116.8,831.3 1118.0,831.2 1119.2,831.1 1120.4,831.3 1121.6,831.3 1122.8,830.9 1124.0,830.4 1125.2,830.2 1126.4,829.5 1127.6,829.3 1128.8,829.8 1130.0,829.9 1131.2,829.8 1132.4,830.0 1133.6,830.4 1134.8,830.0 1136.0,829.3 1137.2,829.8 1138.4,830.0 1139.6,829.6 1140.8,830.1 1142.0,830.8 1143.2,830.4 1144.4,829.5 1145.6,829.2 1146.8,829.1 1148.0,827.9 1149.2,827.2 1150.4,827.8 1151.6,828.8 1152.8,829.6 1154.0,829.2 1155.2,828.2 1156.4,828.1 1157.6,828.5 1158.8,828.3 1160.0,828.2 1160.0,828.5 1161.2,828.6 1162.4,828.6 1163.6,828.9 1164.8,829.5 1166.0,829.1 1167.2,828.5 1168.4,829.1 1169.6,829.2 1170.8,828.6 1172.0,828.1 1173.2,828.0 1174.4,828.1 1175.6,828.2 1176.8,828.4 1178.0,828.0 1179.2,827.3 1180.4,827.5 1181.6,828.0 1182.8,827.9 1184.0,827.3 1185.2,827.1 1186.4,826.8 1187.6,826.3 1188.8,826.6 1190.0,827.4 1191.2,827.2 1192.4,826.7 1193.6,826.9 1194.8,827.7 1196.0,827.9 1197.2,827.2 1198.4,826.7 1199.6,826.8 1200.8,827.5 1202.0,827.2 1202.3,826.7 1203.2,827.0 1204.4,827.1 1205.6,826.9 1206.8,826.6 1208.0,826.1 1209.2,826.2 1210.4,826.6 1211.6,826.3 1212.8,826.4 1214.0,827.1 1215.2,826.6 1216.4,825.9 1217.6,826.0 1218.8,826.7 1220.0,827.0 1221.2,826.8 1222.4,826.4 1223.6,825.6 1224.8,825.5 1226.0,825.8 1227.2,826.1 1227.6,825.8 1228.4,825.9 1229.6,826.6 1230.8,825.9 1232.0,825.2 1233.2,825.1 1234.0,824.5 1234.4,823.4 1235.6,820.6 1235.6,820.8 1236.8,814.4 1237.8,810.2 1238.0,810.3 1239.2,817.7 1240.2,823.1 1240.4,823.5 1241.6,824.9 1242.8,826.2 1244.0,826.7 1244.5,826.5 1245.2,826.8 1246.4,827.3 1247.6,827.8 1248.8,827.9 1250.0,827.3 1251.2,827.0 1252.4,827.0 1253.6,826.6 1254.8,826.6 1256.0,827.2 1257.2,827.2 1258.4,827.2 1259.6,827.1 1260.8,826.8 1262.0,827.1 1263.2,827.3 1264.4,827.1 1265.6,826.9 1266.8,826.1 1268.0,825.5 1269.2,825.9 1270.4,826.5 1271.6,827.0 1272.8,826.9 1274.0,826.5 1275.2,826.8 1276.4,827.5 1277.6,827.5 1278.8,827.0 1280.0,826.6 1281.2,826.3 1282.4,826.3 1283.6,826.4 1284.8,826.3 1286.0,825.9 1286.8,825.2 1287.2,824.5 1288.4,824.4 1289.6,824.8 1290.8,825.1 1292.0,824.2 1293.0,822.5 1293.2,822.2 1294.4,822.0 1295.6,820.9 1296.8,819.7 1298.0,819.6 1298.4,820.0 1299.2,820.2 1300.4,821.0 1301.6,822.2 1302.8,823.0 1303.0,822.6 1304.0,823.1 1305.2,824.1 1306.4,824.7 1307.6,824.4 1307.9,824.2 1308.8,825.2 1310.0,826.1 1311.2,826.2 1312.4,825.5 1313.6,824.3 1314.8,824.1 1316.0,824.5 1317.2,824.2 1318.4,823.8 1319.6,824.3 1320.8,824.6 1322.0,824.3 1323.2,824.7 1324.4,825.2 1325.6,825.0 1326.8,825.2 1328.0,825.2 1329.2,824.8 1330.4,824.4 1331.6,824.3 1332.8,824.4 1334.0,823.8 1335.2,823.6 1336.4,823.8 1337.6,823.6 1338.8,823.9 1339.6,824.1 1340.0,823.8 1341.2,823.6 1342.4,823.8 1343.6,823.1 1344.8,821.7 1346.0,821.7 1347.2,822.5 1348.4,821.8 1349.6,820.4 1350.8,820.3 1352.0,820.9 1352.3,821.1 1353.2,821.5 1354.4,822.0 1355.6,822.2 1356.8,822.6 1358.0,823.9 1359.2,824.9 1360.4,824.9 1361.6,825.6 1362.8,826.0 1362.8,825.5 1364.0,824.8 1365.2,823.8 1366.4,823.6 1367.6,823.7 1368.8,823.3 1370.0,822.3 1370.5,821.6 1371.2,820.1 1372.3,817.0 1372.4,816.6 1373.6,809.6 1374.5,806.7 1374.8,807.0 1376.0,816.7 1376.9,822.9 1377.2,823.6 1378.4,826.2 1379.6,827.8 1380.5,828.8 1380.8,829.4 1382.0,830.6 1383.2,831.4 1384.4,830.6 1384.5,830.2 1385.6,831.3 1386.8,831.2 1388.0,829.7 1389.2,827.8 1389.5,827.2 1390.4,825.0 1391.6,820.3 1391.9,819.0 1392.8,810.4 1394.0,796.8 1394.5,795.1 1395.2,800.3 1396.4,819.6 1396.9,824.0 1397.6,826.4 1398.8,829.7 1400.0,832.3 1401.2,834.4 1402.4,836.1 1403.0,836.3 1403.6,835.8 1404.8,835.6 1406.0,835.7 1407.2,835.3 1408.4,834.5 1409.6,834.5 1410.8,835.0 1412.0,835.2 1413.2,834.9 1413.5,835.2 1414.4,835.5 1415.6,834.7 1416.8,834.8 1418.0,836.0 1419.2,836.7 1420.4,837.0 1421.6,837.3 1422.8,837.6 1424.0,837.8 1424.0,837.9 1425.2,837.7 1426.4,836.8 1427.6,836.4 1428.8,836.3 1430.0,836.0 1430.0,836.2 1431.2,835.2 1432.4,833.8 1433.6,832.7 1434.7,831.9 1434.8,831.3 1436.0,832.8 1437.2,835.3 1438.4,837.8 1439.0,839.1 1439.6,840.3 1440.8,842.7 1442.0,845.0 1443.0,846.0 1443.2,845.7 1444.4,846.3 1445.6,846.3 1446.8,845.7 1447.0,845.8 1448.0,845.8 1449.2,844.4 1450.4,842.5 1450.5,842.3 1451.6,838.3 1452.8,831.3 1453.0,830.0 1454.0,818.9 1455.2,806.7 1455.4,805.9 1456.4,817.9 1457.6,836.1 1457.6,836.0 1458.8,841.7 1460.0,845.8 1461.2,847.6 1461.7,847.6 1462.4,847.9 1463.6,848.5 1464.8,848.8 1466.0,848.7 1467.2,848.6 1468.4,848.1 1469.6,848.1 1470.8,848.9 1472.0,849.3 1473.2,848.4 1474.4,847.9 1475.6,848.6 1476.8,848.8 1477.0,848.2 1478.0,848.0 1479.2,848.2 1480.4,848.5 1481.6,848.1 1482.8,847.7 1484.0,848.1 1485.2,847.5 1486.4,846.9 1487.5,847.1 1487.6,847.6 1488.8,848.3 1490.0,848.2 1491.2,847.5 1492.4,847.6 1493.6,848.0 1494.8,848.7 1496.0,849.2 1497.2,849.5 1498.0,849.9 1498.4,849.7 1499.6,849.5 1500.8,849.2 1502.0,848.2 1503.2,848.3 1504.4,849.0 1505.6,849.0 1506.8,848.8 1508.0,848.6 1509.2,848.1 1510.4,847.7 1511.6,846.9 1512.8,847.0 1514.0,847.7 1515.2,847.3 1516.4,847.2 1517.6,848.1 1518.8,847.9 1520.0,847.0 1521.2,846.7 1522.4,846.6 1523.0,846.7 1523.6,847.2 1524.8,847.8 1526.0,848.5 1527.2,849.6 1528.4,850.7 1529.6,851.7 1530.2,851.1 1530.8,850.1 1532.0,849.8 1533.2,848.9 1534.4,848.2 1535.6,848.1 1536.0,847.8 1536.8,847.5 1538.0,846.8 1539.2,845.5 1540.4,844.6 1541.0,845.3 1541.6,845.9 1542.8,845.9 1544.0,846.2 1545.2,847.4 1546.4,849.1 1546.5,849.9 1547.6,850.7 1548.8,851.7 1550.0,852.5 1551.2,852.6 1551.6,852.7 1552.4,852.5 1553.6,851.8 1554.8,851.8 1556.0,851.4 1557.2,850.8 1558.4,850.7 1559.6,850.7 1560.8,850.0 1562.0,849.1 1563.2,849.2 1564.0,849.9 1564.4,849.5 1565.6,848.9 1566.8,849.5 1568.0,850.2 1569.2,850.2 1570.0,850.8 1570.4,851.4 1571.6,851.5 1572.8,852.1 1574.0,852.7 1575.0,853.5 1575.2,854.3 1576.4,853.9 1577.6,853.2 1578.8,853.4 1580.0,854.1 1581.2,854.6"/>
<polyline class="curve" stroke="#006FE0" points="140.0,597.6 141.2,597.2 142.4,596.5 143.6,596.5 144.8,597.8 146.0,598.1 146.3,597.5 147.2,597.5 148.4,597.2 149.6,597.0 150.8,597.2 152.0,596.8 153.2,596.3 154.4,596.3 155.6,596.6 156.8,596.7 158.0,596.5 159.2,596.2 160.4,595.9 161.6,596.0 162.8,596.3 164.0,596.4 165.2,596.2 166.4,595.8 167.6,595.5 168.8,596.3 170.0,596.3 171.2,594.8 172.4,593.8 173.6,594.4 174.8,595.3 176.0,595.7 177.2,595.8 178.4,595.6 179.6,595.2 180.8,594.9 182.0,594.9 182.3,594.8 183.2,594.2 184.4,594.1 185.6,594.9 186.8,595.1 188.0,594.1 189.2,593.4 190.4,593.9 191.6,594.4 192.8,594.4 194.0,594.1 195.2,593.5 196.4,594.1 197.6,594.1 198.8,593.2 200.0,593.6 201.2,594.1 202.4,594.0 203.6,594.4 204.8,594.7 206.0,593.8 207.2,592.8 208.4,592.7 209.6,593.0 210.8,592.8 212.0,592.6 213.2,592.7 214.4,592.6 215.6,591.8 216.8,590.9 218.0,591.1 219.2,592.3 220.4,592.9 221.6,592.8 222.8,592.2 224.0,591.7 224.5,591.9 225.2,591.6 226.4,590.9 227.6,591.4 228.8,592.3 230.0,592.2 231.2,591.7 232.4,591.2 233.6,591.1 234.8,591.4 236.0,591.1 237.2,590.6 238.4,590.5 239.6,590.5 240.8,590.9 242.0,591.1 243.2,590.8 244.4,590.9 245.6,590.5 246.8,590.1 248.0,589.9 249.2,589.9 250.4,590.0 251.6,589.7 252.8,589.3 254.0,589.1 255.2,588.8 256.4,588.6 257.6,589.1 258.8,589.8 260.0,590.0 261.2,590.3 262.4,590.5 263.6,589.6 264.8,589.2 266.0,589.3 266.8,588.9 267.2,588.6 268.4,588.4 269.6,587.9 270.8,587.6 272.0,588.1 273.2,587.9 274.4,587.7 275.6,588.5 276.8,588.3 278.0,587.4 279.2,586.9 280.4,586.8 281.6,587.0 282.8,587.2 284.0,586.9 285.2,586.1 286.4,585.6 287.6,585.3 288.8,584.9 290.0,585.0 291.2,585.4 292.4,585.9 293.6,585.7 294.8,584.9 296.0,584.6 297.2,584.9 298.4,585.1 299.6,584.6 300.8,583.9 302.0,583.1 303.2,582.9 304.4,583.0 305.6,583.0 306.8,582.5 308.0,582.1 309.0,582.1 309.2,582.5 310.4,582.7 311.6,582.5 312.8,581.8 314.0,581.2 315.2,580.9 316.4,580.6 317.6,580.3 318.8,580.3 320.0,580.2 321.2,580.2 322.4,580.3 323.6,579.9 324.8,579.0 326.0,578.1 327.2,577.9 328.4,577.6 329.6,577.2 330.8,577.6 332.0,577.5 333.2,577.3 334.4,577.5 335.6,577.3 336.8,576.4 338.0,575.8 339.2,575.8 340.4,575.6 341.6,575.2 342.8,575.4 344.0,574.7 345.2,573.6 346.4,573.4 347.6,573.5 348.8,573.9 350.0,573.6 351.2,572.4 351.3,572.3 352.4,572.4 353.6,572.6 354.8,572.8 356.0,572.3 357.2,571.5 358.4,570.8 359.6,570.0 360.8,570.3 362.0,570.6 362.0,570.2 363.2,569.7 364.4,570.4 365.6,570.7 366.8,569.7 368.0,569.1 369.2,569.0 370.3,568.3 370.4,568.3 371.6,568.2 372.8,567.5 374.0,566.6 375.2,566.0 376.0,565.0 376.4,563.7 377.6,562.6 378.8,562.3 380.0,562.1 381.2,561.3 382.0,560.8 382.4,560.9 383.6,561.7 384.8,562.7 386.0,563.6 387.0,564.4 387.2,565.2 388.4,566.2 389.6,567.1 390.8,568.8 392.0,569.7 392.0,568.6 393.2,569.0 394.4,570.5 395.6,571.4 396.8,570.8 397.0,570.7 398.0,571.3 399.2,570.8 400.4,570.5 401.6,570.7 402.0,570.3 402.8,568.0 404.0,564.4 405.2,560.7 405.5,559.8 406.4,557.5 407.6,554.3 408.8,551.5 409.4,551.1 410.0,552.5 411.2,555.7 412.0,558.1 412.4,559.2 413.6,562.8 414.8,566.6 415.5,568.8 416.0,570.4 417.2,574.0 418.4,577.3 419.5,580.0 419.6,580.1 420.8,583.0 422.0,585.6 423.2,587.5 423.5,588.6 424.4,589.2 425.6,588.9 426.8,589.2 428.0,589.6 429.2,590.0 430.4,590.4 431.0,590.4 431.6,590.4 432.8,590.8 434.0,591.0 435.2,591.0 436.4,591.0 437.6,591.6 438.8,592.1 440.0,592.6 441.2,593.3 442.0,593.9 442.4,593.7 443.6,593.2 444.8,593.1 446.0,593.2 447.2,593.7 448.4,593.3 449.6,592.7 450.8,593.2 452.0,592.9 453.2,591.7 454.4,591.9 455.6,592.1 456.8,591.7 457.0,591.8 458.0,592.4 459.2,593.1 460.4,593.9 461.6,594.2 462.8,593.6 464.0,593.4 465.2,593.2 466.4,592.7 467.6,591.8 468.8,591.3 470.0,592.0 471.2,593.1 472.4,593.6 473.6,593.2 474.8,592.5 476.0,592.4 477.2,593.1 478.4,593.0 479.6,592.1 480.8,591.6 482.0,591.8 483.2,592.4 484.4,592.3 485.6,591.8 486.8,591.8 488.0,591.7 489.2,591.0 490.4,590.3 491.6,589.9 492.8,590.2 494.0,591.5 495.2,591.8 496.4,590.8 497.6,590.7 498.8,590.9 499.0,590.6 500.0,590.5 501.2,590.6 502.4,590.9 503.6,590.8 504.8,590.8 506.0,590.9 507.2,590.2 508.4,589.5 509.6,590.1 510.8,590.8 512.0,590.7 513.2,590.3 514.4,590.0 515.6,590.4 516.8,590.8 518.0,591.0 519.2,591.2 520.4,590.4 521.6,589.3 522.8,589.5 524.0,590.3 525.2,590.6 526.4,590.7 527.6,590.9 528.8,591.2 530.0,590.8 531.2,590.1 532.4,590.1 532.8,590.1 533.6,589.8 534.8,590.3 536.0,590.7 537.2,590.0 538.4,589.4 539.6,588.8 540.8,588.3 542.0,588.1 543.2,588.0 544.4,587.9 545.6,587.7 546.8,588.0 548.0,587.8 549.2,587.2 550.4,586.8 551.6,585.8 552.8,585.5 554.0,586.4 554.0,587.1 555.2,586.9 556.4,586.6 557.6,587.3 558.8,588.4 560.0,589.1 561.2,589.5 562.4,589.7 563.6,590.0 564.8,590.5 566.0,591.3 567.2,591.8 568.4,591.7 569.6,591.9 570.8,593.0 570.9,593.6 572.0,593.1 573.2,592.3 574.4,591.9 575.6,591.8 576.8,591.5 578.0,590.9 578.0,590.3 579.2,588.8 580.4,587.5 581.6,585.8 581.8,585.8 582.8,583.3 584.0,578.9 585.0,577.1 585.2,577.6 586.4,583.3 587.0,587.0 587.6,591.0 588.6,595.9 588.8,595.5 590.0,595.9 591.2,596.9 592.4,597.1 593.0,596.6 593.6,597.4 594.8,598.1 596.0,597.8 597.2,597.8 598.4,597.7 599.6,597.5 600.8,598.0 602.0,598.3 603.2,597.8 604.4,598.0 605.6,598.2 606.8,597.8 606.8,597.5 608.0,597.2 609.2,597.4 610.4,598.1 611.6,598.1 612.8,598.5 614.0,599.2 615.2,598.5 616.4,597.9 617.6,597.8 618.8,598.0 620.0,598.3 621.2,598.2 622.4,598.6 623.6,598.3 624.8,597.6 626.0,597.6 627.2,598.1 628.4,598.5 629.6,597.6 630.8,596.3 632.0,595.7 633.2,595.9 634.4,596.2 635.6,596.0 636.8,595.9 638.0,596.1 639.2,596.8 640.4,596.9 641.6,596.0 642.8,595.6 644.0,595.4 645.2,595.1 646.4,595.1 647.6,595.6 648.8,596.2 649.0,596.0 650.0,595.9 651.2,596.2 652.4,596.1 653.6,595.9 654.8,595.7 656.0,595.5 657.2,595.8 658.4,595.7 659.6,595.0 660.8,594.9 662.0,595.6 663.2,596.2 664.4,596.3 665.6,595.5 666.8,594.9 668.0,594.7 669.2,594.7 670.4,594.7 671.6,594.1 672.8,594.0 674.0,594.2 675.2,594.3 676.4,594.5 677.6,594.7 678.8,594.5 680.0,594.0 681.2,593.3 682.4,592.8 683.6,592.8 684.8,593.3 686.0,593.6 687.2,593.1 688.4,592.9 689.6,593.2 690.8,593.0 691.3,592.8 692.0,593.2 693.2,593.0 694.4,592.1 695.6,592.4 696.8,593.2 698.0,593.2 699.2,593.0 700.4,593.5 701.6,594.1 702.8,594.0 704.0,594.2 705.2,594.3 706.4,594.0 707.6,593.9 708.8,593.7 710.0,593.3 711.2,593.5 712.4,594.1 712.4,593.9 713.6,593.3 714.8,593.6 716.0,594.4 717.2,594.1 718.4,593.1 719.6,592.1 720.8,591.7 722.0,592.0 723.2,591.7 724.4,591.2 725.6,591.7 726.8,591.5 728.0,590.5 729.2,590.3 729.3,590.6 730.4,590.9 731.6,590.7 732.8,590.9 734.0,592.1 735.2,592.8 736.4,593.5 737.6,593.8 738.8,593.8 740.0,594.4 741.2,595.2 742.0,595.5 742.4,595.2 743.6,595.7 744.8,596.7 746.0,597.7 747.2,598.4 748.4,599.2 749.6,600.2 750.8,600.7 751.5,600.9 752.0,601.3 753.2,601.6 754.4,601.2 755.6,599.6 756.0,598.7 756.8,597.1 757.5,594.0 758.0,587.9 759.2,558.6 760.4,539.5 760.4,539.5 761.6,561.7 762.8,594.5 763.3,600.0 764.0,601.4 765.2,603.4 766.3,603.6 766.4,603.4 767.6,603.8 768.8,604.3 770.0,604.5 771.2,604.2 772.4,604.0 773.6,604.5 774.8,604.4 775.8,603.7 776.0,603.1 777.2,602.6 778.4,602.6 779.6,602.8 780.8,602.8 782.0,602.8 783.2,602.8 784.4,602.9 785.6,603.0 786.8,602.6 788.0,601.8 789.2,601.8 790.4,602.7 791.6,602.8 792.8,602.0 794.0,601.4 795.2,600.6 796.4,600.3 797.0,601.2 797.6,601.8 798.8,601.0 800.0,601.0 801.2,601.3 802.4,600.8 803.6,601.1 804.8,601.5 806.0,601.1 807.2,601.7 808.4,602.1 809.6,601.0 810.8,600.5 812.0,600.6 813.2,600.2 814.4,600.4 815.6,601.3 816.8,600.8 818.0,599.7 819.2,600.0 820.0,600.7 820.4,600.5 821.6,599.9 822.8,600.0 824.0,600.4 825.2,600.4 826.4,599.7 827.6,599.4 828.8,600.0 830.0,600.3 831.2,600.6 832.4,600.6 833.6,598.9 834.8,598.0 836.0,598.2 837.2,598.0 838.4,597.2 839.2,597.4 839.6,598.0 840.8,597.2 842.0,596.2 843.2,596.1 844.4,596.1 845.6,596.2 846.8,595.9 848.0,595.6 849.2,595.7 850.4,595.6 851.6,595.9 851.7,596.1 852.8,595.2 854.0,594.7 855.2,595.0 856.4,595.2 857.6,594.8 858.8,594.5 860.0,594.4 861.2,594.4 862.4,594.1 863.6,593.5 864.8,593.2 866.0,593.1 867.2,592.8 868.4,592.9 869.6,592.8 870.7,592.2 870.8,591.7 872.0,591.4 873.2,591.1 874.4,589.8 875.6,588.0 876.8,587.8 877.0,589.1 878.0,589.3 879.2,589.2 880.4,589.3 881.6,589.2 882.8,589.8 883.4,589.9 884.0,589.0 885.2,587.9 886.4,586.1 887.6,584.2 888.7,583.2 888.8,583.5 890.0,585.0 891.2,588.0 892.4,591.4 893.6,593.7 894.0,594.4 894.8,595.1 896.0,595.2 897.2,595.5 898.4,596.4 899.6,596.2 900.8,596.1 901.3,596.4 902.0,596.3 903.2,595.4 904.4,594.4 905.6,592.9 906.8,591.5 907.0,591.6 908.0,591.1 909.2,590.1 910.4,589.1 911.6,588.4 912.8,588.9 913.0,588.5 914.0,587.9 915.2,589.5 916.4,591.3 917.6,592.8 918.0,593.6 918.8,594.7 920.0,595.8 921.2,597.2 922.4,598.9 923.5,600.2 923.6,600.1 924.8,601.2 926.0,602.4 927.2,603.6 928.4,604.7 929.0,605.3 929.6,606.0 930.8,607.6 932.0,608.9 932.5,609.1 933.2,608.8 934.4,605.4 935.6,600.3 936.8,593.9 938.0,586.7 938.3,584.8 939.2,577.3 939.4,574.3 940.2,522.9 940.4,515.6 941.6,470.0 941.6,468.5 942.2,454.0 942.8,469.3 942.9,470.8 944.0,518.8 944.2,526.5 945.0,580.6 945.2,583.7 946.1,591.7 946.4,594.6 947.6,607.2 948.8,615.3 949.0,616.1 950.0,616.8 951.2,616.5 952.4,616.2 953.6,616.7 954.8,617.7 955.2,618.1 956.0,617.4 957.2,617.0 958.4,617.1 959.6,616.9 960.8,616.5 962.0,616.8 963.2,617.2 964.4,617.4 965.6,617.7 966.8,617.9 968.0,616.9 969.2,615.5 970.4,615.5 971.6,616.5 972.8,617.4 974.0,617.9 975.2,617.3 976.4,617.0 977.6,617.5 978.8,617.5 980.0,617.1 981.2,616.7 982.4,616.1 983.6,616.3 984.8,616.8 986.0,616.6 987.2,617.0 988.4,617.5 989.6,617.5 990.8,617.5 992.0,616.7 993.2,615.6 994.4,615.6 995.6,616.4 996.8,616.7 998.0,616.2 999.2,616.0 1000.4,616.6 1001.6,616.8 1002.8,615.9 1004.0,615.8 1005.2,616.1 1006.4,615.8 1007.6,616.1 1008.8,616.1 1010.0,615.6 1011.2,615.7 1012.4,616.0 1013.6,616.5 1014.8,617.1 1016.0,617.3 1017.2,616.9 1018.4,616.4 1019.6,616.3 1020.8,616.6 1022.0,616.6 1023.2,616.0 1024.4,616.2 1025.6,616.4 1026.8,616.5 1028.0,616.9 1029.2,617.0 1030.4,616.7 1031.3,616.4 1031.6,616.6 1032.8,616.5 1034.0,616.5 1035.2,616.8 1036.4,617.1 1037.6,616.9 1038.8,616.4 1040.0,616.0 1041.2,615.9 1042.4,616.0 1043.6,616.4 1044.8,616.9 1046.0,618.0 1047.2,618.6 1048.4,617.8 1049.6,617.7 1050.8,617.5 1052.0,616.8 1053.2,616.8 1054.4,617.7 1055.6,618.3 1056.8,617.6 1058.0,616.6 1059.2,616.7 1060.4,617.6 1061.6,618.4 1062.8,618.3 1064.0,618.4 1065.2,618.5 1066.4,618.1 1067.6,617.9 1068.8,617.6 1070.0,617.4 1071.2,618.1 1072.4,618.8 1073.6,618.6 1074.8,617.8 1076.0,618.0 1077.2,618.8 1078.4,619.2 1079.6,619.0 1080.8,618.5 1082.0,618.3 1083.2,618.4 1084.4,618.5 1085.6,618.6 1086.2,619.0 1086.8,619.4 1088.0,618.7 1089.2,617.9 1090.4,618.3 1091.6,618.0 1092.8,616.8 1094.0,616.2 1095.2,616.1 1095.5,616.1 1096.4,614.0 1096.7,612.9 1097.6,604.4 1098.5,598.0 1098.8,598.8 1100.0,613.3 1100.3,615.1 1101.2,617.4 1102.4,618.6 1103.0,618.9 1103.6,618.8 1104.8,618.6 1106.0,618.3 1107.2,618.1 1108.4,617.7 1109.5,617.5 1109.6,617.9 1110.8,618.4 1112.0,619.0 1113.2,619.3 1114.4,618.8 1115.6,618.6 1116.8,618.2 1118.0,617.8 1119.2,618.2 1120.4,618.5 1121.6,618.1 1122.8,617.3 1124.0,617.0 1125.2,617.7 1126.4,618.6 1127.6,619.1 1128.8,619.3 1130.0,619.1 1131.2,618.8 1132.4,618.5 1133.6,618.2 1134.8,618.3 1136.0,619.0 1137.2,619.2 1138.4,618.0 1139.6,617.3 1140.8,617.6 1142.0,617.3 1143.2,617.0 1144.4,616.9 1145.6,617.0 1146.8,617.7 1148.0,617.5 1149.2,616.9 1150.4,616.7 1151.6,616.8 1152.8,616.9 1154.0,616.5 1155.2,616.1 1156.4,616.1 1157.6,616.3 1158.8,616.4 1160.0,616.1 1160.0,616.3 1161.2,617.2 1162.4,617.8 1163.6,616.6 1164.8,615.0 1166.0,615.2 1167.2,616.0 1168.4,616.6 1169.6,617.1 1170.8,616.3 1172.0,615.2 1173.2,615.6 1174.4,616.2 1175.6,616.5 1176.8,616.3 1178.0,615.9 1179.2,615.6 1180.4,615.2 1181.6,615.4 1182.8,616.4 1184.0,616.6 1185.2,615.4 1186.4,614.7 1187.6,615.2 1188.8,615.6 1190.0,615.8 1191.2,615.2 1192.4,615.0 1193.6,615.7 1194.8,615.8 1196.0,615.3 1197.2,615.1 1198.4,615.4 1199.6,615.4 1200.8,615.1 1202.0,614.4 1202.3,614.0 1203.2,614.5 1204.4,615.3 1205.6,615.8 1206.8,615.6 1208.0,615.5 1209.2,616.1 1210.4,616.3 1211.6,615.5 1212.8,615.2 1214.0,615.1 1215.2,614.7 1216.4,614.8 1217.6,614.9 1218.8,614.1 1220.0,613.7 1221.2,614.0 1222.4,614.2 1223.6,614.9 1224.8,615.0 1226.0,614.5 1227.2,614.5 1227.6,614.3 1228.4,614.1 1229.6,614.5 1230.8,614.6 1232.0,613.4 1233.2,612.0 1234.0,611.7 1234.4,611.5 1235.6,608.9 1235.6,608.8 1236.8,601.4 1237.8,595.7 1238.0,597.1 1239.2,605.3 1240.2,611.0 1240.4,611.1 1241.6,612.8 1242.8,614.3 1244.0,615.2 1245.2,614.9 1246.4,614.6 1246.6,614.9 1247.6,615.0 1248.8,615.0 1250.0,614.8 1251.2,614.2 1252.4,613.9 1253.6,614.0 1254.8,613.9 1256.0,614.0 1257.2,614.5 1258.4,615.2 1259.6,615.2 1260.8,614.6 1262.0,614.9 1263.2,615.2 1264.4,614.5 1265.6,613.4 1266.8,613.4 1268.0,614.7 1269.2,615.3 1270.4,614.6 1271.6,614.4 1272.8,615.1 1274.0,615.2 1275.2,614.5 1276.4,613.6 1277.6,613.3 1278.8,613.5 1280.0,613.5 1281.2,614.0 1282.4,614.3 1283.6,614.2 1284.8,614.2 1286.0,613.8 1287.2,613.7 1288.4,613.7 1289.6,613.2 1290.8,613.1 1291.0,613.5 1292.0,612.9 1293.2,611.6 1294.4,610.5 1295.0,610.4 1295.6,610.0 1296.8,607.8 1298.0,605.9 1298.4,605.2 1299.2,605.4 1300.4,607.3 1301.6,609.4 1302.0,609.9 1302.8,610.0 1304.0,610.8 1305.2,611.8 1306.4,612.2 1306.8,612.2 1307.6,612.7 1308.8,613.0 1310.0,613.1 1311.2,613.0 1312.4,613.0 1313.6,613.1 1314.8,612.7 1316.0,612.9 1317.2,613.1 1318.4,612.8 1319.6,612.4 1320.8,611.7 1322.0,611.5 1323.2,611.8 1324.4,612.2 1325.6,612.5 1326.8,612.6 1328.0,612.6 1329.2,612.5 1330.4,612.3 1331.6,612.0 1332.8,611.6 1334.0,612.0 1335.2,612.2 1336.4,611.2 1337.6,611.3 1338.8,612.0 1339.6,612.1 1340.0,612.2 1341.2,611.4 1342.4,610.3 1343.6,609.6 1344.8,609.5 1346.0,610.0 1347.2,609.8 1348.4,608.9 1349.6,608.4 1350.8,607.7 1352.0,607.1 1352.3,607.0 1353.2,607.1 1354.4,607.9 1355.6,609.2 1356.8,610.5 1358.0,611.3 1359.2,611.7 1360.4,612.3 1361.6,613.1 1362.8,612.5 1362.8,611.4 1364.0,611.9 1365.2,612.3 1366.4,611.6 1367.6,611.1 1368.8,610.1 1370.0,608.5 1370.0,608.6 1371.2,606.3 1371.6,605.0 1372.4,601.0 1373.6,595.4 1373.8,595.4 1374.8,600.6 1376.0,610.3 1376.2,611.0 1377.2,613.4 1378.4,615.6 1379.6,616.8 1380.8,617.2 1381.0,617.8 1382.0,618.5 1383.2,618.4 1384.4,618.0 1385.0,617.7 1385.6,617.8 1386.8,617.2 1388.0,616.0 1389.2,614.7 1389.5,614.4 1390.4,612.5 1391.6,608.4 1391.9,607.0 1392.8,599.1 1394.0,586.3 1394.5,584.7 1395.2,589.6 1396.4,607.8 1396.9,612.0 1397.6,614.3 1398.8,617.7 1400.0,620.4 1401.2,622.4 1402.4,623.5 1403.0,623.4 1403.6,623.4 1404.8,623.1 1406.0,622.3 1407.2,622.2 1408.4,622.8 1409.6,623.1 1410.8,623.2 1412.0,622.9 1413.2,622.7 1413.5,622.5 1414.4,622.1 1415.6,621.9 1416.8,622.5 1418.0,624.2 1419.2,625.0 1420.4,624.5 1421.6,624.0 1422.8,623.8 1424.0,624.2 1424.0,625.1 1425.2,624.8 1426.4,623.6 1427.6,622.7 1428.8,621.8 1429.0,622.1 1430.0,621.0 1431.2,619.2 1432.4,617.6 1433.6,616.5 1433.6,616.0 1434.8,617.6 1436.0,620.0 1437.2,622.3 1437.5,622.8 1438.4,625.0 1439.6,628.3 1440.8,630.8 1441.0,631.0 1442.0,631.0 1443.2,631.6 1444.4,632.7 1445.2,632.3 1445.6,632.3 1446.8,632.6 1448.0,632.2 1449.2,631.5 1450.4,630.2 1450.5,630.1 1451.6,626.6 1452.8,619.4 1453.0,618.0 1454.0,606.4 1455.2,593.7 1455.4,593.5 1456.4,605.0 1457.6,624.0 1457.6,624.0 1458.8,630.8 1460.0,635.5 1461.0,637.0 1461.2,636.3 1462.4,636.1 1463.6,636.3 1464.8,636.7 1466.0,636.9 1467.2,636.6 1468.4,636.6 1469.6,636.5 1470.8,636.6 1472.0,637.0 1473.2,636.9 1474.4,637.0 1475.6,636.8 1476.8,636.5 1477.0,636.0 1478.0,635.5 1479.2,635.6 1480.4,635.9 1481.6,635.3 1482.0,635.0 1482.8,635.1 1484.0,634.0 1485.2,632.2 1486.4,631.7 1486.4,632.0 1487.6,632.3 1488.8,633.7 1490.0,635.2 1490.0,635.3 1491.2,636.3 1492.4,637.1 1493.6,637.1 1493.8,637.6 1494.8,638.0 1496.0,637.2 1497.2,636.9 1498.4,637.1 1499.6,637.3 1500.8,637.7 1502.0,637.6 1503.2,636.8 1504.4,636.1 1505.6,637.0 1506.8,637.3 1508.0,636.8 1509.2,636.9 1510.4,637.0 1511.6,637.2 1512.8,637.2 1514.0,636.3 1515.2,635.5 1516.4,635.3 1517.6,635.0 1518.8,634.9 1520.0,635.0 1521.2,635.5 1521.3,636.3 1522.4,636.3 1523.6,636.2 1524.8,636.6 1526.0,636.6 1527.2,637.1 1528.4,638.4 1529.6,639.5 1530.8,639.9 1532.0,640.0 1532.0,640.2 1533.2,640.0 1534.4,638.9 1535.6,637.1 1536.8,635.7 1537.0,636.1 1538.0,635.8 1539.2,634.5 1540.4,633.4 1541.6,632.9 1541.8,632.9 1542.8,632.9 1544.0,633.7 1545.2,635.1 1546.4,636.2 1547.0,636.5 1547.6,637.1 1548.8,638.4 1550.0,639.6 1551.2,640.5 1551.6,640.3 1552.4,640.3 1553.6,640.1 1554.8,639.7 1556.0,639.7 1557.2,639.3 1558.4,638.6 1559.6,637.5 1560.8,636.2 1562.0,635.9 1563.2,636.7 1564.0,637.3 1564.4,636.9 1565.6,636.5 1566.8,637.1 1568.0,638.3 1569.2,638.1 1570.0,637.2 1570.4,637.0 1571.6,638.4 1572.8,640.7 1574.0,642.8 1575.0,642.9 1575.2,641.9 1576.4,641.3 1577.6,641.3 1578.8,641.8 1580.0,641.9 1581.2,641.9"/>
<polyline class="curve" stroke="#00AE63" points="140.0,391.6 141.2,391.7 142.4,391.1 143.6,390.6 144.8,391.1 146.0,391.1 146.3,390.8 147.2,391.0 148.4,391.1 149.6,390.8 150.8,390.7 152.0,390.5 153.2,390.1 154.4,389.9 155.6,390.1 156.8,390.4 158.0,390.2 159.2,389.7 160.4,389.5 161.6,389.6 162.8,389.7 164.0,389.9 165.2,390.5 166.4,389.8 167.6,388.0 168.8,387.9 170.0,388.8 171.2,389.1 172.4,389.3 173.6,389.8 174.8,389.9 176.0,388.9 177.2,389.0 178.4,389.9 179.6,389.7 180.8,389.0 182.0,388.1 182.0,387.7 183.2,388.2 184.4,388.2 185.6,387.6 186.8,387.6 188.0,387.7 189.2,387.5 190.4,387.7 191.6,387.8 192.8,387.6 194.0,387.5 195.2,387.8 196.4,388.0 197.6,387.4 198.8,387.0 200.0,387.0 201.2,387.0 202.4,386.8 203.6,386.6 204.8,386.7 206.0,386.3 207.2,385.6 208.4,385.7 209.6,386.0 210.8,385.8 212.0,385.1 213.2,384.9 214.4,385.2 215.6,385.3 216.8,385.5 218.0,385.2 219.2,384.5 220.4,384.9 221.6,385.4 222.8,384.6 224.0,384.3 224.5,384.7 225.2,384.9 226.4,384.7 227.6,383.9 228.8,383.3 230.0,383.5 231.2,383.8 232.4,384.0 233.6,383.5 234.8,382.5 236.0,382.6 237.2,383.6 238.4,383.5 239.6,382.9 240.8,382.9 242.0,383.1 243.2,383.2 244.4,383.2 245.6,382.8 246.8,382.3 248.0,382.3 249.2,382.0 250.4,381.1 251.6,381.3 252.8,381.4 254.0,381.1 255.2,381.2 256.4,381.4 257.6,381.5 258.8,381.5 260.0,381.6 261.2,381.7 262.4,381.0 263.6,380.0 264.8,380.0 265.0,380.9 266.0,380.6 267.2,379.9 268.4,380.0 269.6,380.1 270.8,380.2 272.0,380.0 273.2,379.4 274.4,379.2 275.6,379.1 276.8,379.0 278.0,379.5 279.2,379.4 280.4,377.8 281.6,377.2 282.8,378.8 284.0,379.5 285.2,378.0 286.4,377.4 287.6,377.7 288.8,377.4 290.0,377.1 291.2,377.3 292.4,377.4 293.6,377.2 294.8,377.0 296.0,376.7 297.2,376.2 298.4,376.0 299.6,375.9 300.8,375.8 302.0,375.3 302.7,375.6 303.2,376.4 304.4,376.1 305.6,375.7 306.8,375.6 308.0,375.2 309.2,375.1 310.4,375.2 311.6,374.8 312.8,374.4 314.0,374.5 315.2,374.1 316.4,373.4 317.6,373.3 318.8,373.9 320.0,374.2 321.2,373.5 322.4,372.8 323.6,372.3 324.8,372.9 326.0,373.4 327.2,372.8 328.4,372.4 329.6,372.6 330.8,372.9 332.0,373.1 333.2,373.1 334.4,372.2 335.6,371.3 336.8,371.2 338.0,371.2 339.2,371.0 340.4,370.8 341.6,370.3 342.8,369.8 344.0,370.0 345.2,369.6 346.4,369.2 347.6,369.8 348.8,370.1 350.0,369.6 351.2,368.7 351.3,369.0 352.4,369.8 353.6,368.9 354.8,367.2 356.0,366.8 357.2,366.5 358.4,365.9 359.6,365.8 360.8,365.9 362.0,366.2 362.0,365.6 363.2,364.2 364.4,364.0 365.6,364.3 366.8,364.8 368.0,364.9 369.2,364.2 370.4,364.0 371.6,364.7 372.0,364.6 372.8,363.3 374.0,362.3 375.2,361.6 376.4,360.6 377.6,360.1 378.0,360.3 378.8,359.4 380.0,358.5 381.2,358.0 382.4,357.3 383.0,357.1 383.6,357.2 384.8,357.7 386.0,358.3 387.2,359.4 388.0,360.3 388.4,360.7 389.6,362.0 390.8,363.5 392.0,364.9 393.0,365.5 393.2,365.3 394.4,365.8 395.6,366.1 396.8,366.5 397.5,366.9 398.0,366.6 399.2,366.2 400.4,366.0 401.6,365.0 402.0,364.1 402.8,362.9 404.0,360.1 405.2,356.7 405.5,355.9 406.4,353.4 407.6,349.9 408.7,347.9 408.8,348.4 410.0,350.5 411.2,354.1 411.5,354.9 412.4,358.1 413.6,362.8 414.8,367.2 415.0,368.0 416.0,370.9 417.2,374.1 418.4,376.9 419.5,379.0 419.6,379.1 420.8,381.1 422.0,382.9 423.2,384.1 424.2,384.6 424.4,385.0 425.6,385.8 426.8,385.9 428.0,386.2 429.2,386.5 430.4,386.2 431.6,386.5 432.0,387.0 432.8,387.1 434.0,387.6 435.2,388.4 436.4,388.6 437.6,388.2 438.8,388.3 440.0,388.4 441.2,388.8 442.0,389.9 442.4,389.5 443.6,389.1 444.8,389.7 446.0,389.4 447.2,389.1 448.4,390.0 449.6,390.5 450.8,390.0 452.0,390.1 453.2,390.2 454.4,390.1 455.6,390.4 456.8,390.4 457.0,389.8 458.0,389.5 459.2,389.7 460.4,390.1 461.6,390.6 462.8,390.8 464.0,390.7 465.2,390.5 466.4,390.1 467.6,389.9 468.8,390.6 470.0,390.9 471.2,390.0 472.4,389.4 473.6,389.3 474.8,389.1 476.0,389.1 477.2,389.2 478.4,389.5 479.6,389.8 480.8,389.5 482.0,389.4 483.2,389.3 484.4,389.2 485.6,389.1 486.8,388.4 488.0,387.8 489.2,388.0 490.4,387.8 491.6,387.5 492.8,387.3 494.0,387.5 495.2,388.2 496.4,388.0 497.6,387.2 498.8,387.0 499.0,387.2 500.0,387.2 501.2,386.8 502.4,386.8 503.6,387.0 504.8,387.3 506.0,387.9 507.2,388.0 508.4,387.6 509.6,387.0 510.8,386.6 512.0,386.9 513.2,387.1 514.4,387.4 515.6,387.1 516.8,386.0 518.0,385.9 519.2,386.2 520.4,386.2 521.6,385.8 522.8,385.9 524.0,386.5 525.2,386.7 526.4,386.3 527.6,385.8 528.8,386.0 530.0,386.5 531.2,386.0 532.4,385.6 532.8,386.3 533.6,386.8 534.8,386.6 536.0,386.4 537.2,386.3 538.4,386.0 539.6,386.1 540.8,386.3 542.0,386.6 543.2,386.7 544.4,386.1 545.6,386.0 546.8,386.5 548.0,387.0 549.2,386.5 550.4,385.9 551.6,386.3 551.8,387.2 552.8,387.0 554.0,385.8 555.2,386.0 556.4,386.6 557.6,385.9 558.8,385.8 560.0,386.9 561.2,387.3 562.4,387.0 563.6,387.2 564.8,387.7 566.0,388.1 567.2,388.0 568.4,387.8 569.6,387.4 570.8,387.3 572.0,387.9 573.0,388.4 573.2,388.1 574.4,387.5 575.6,387.6 576.8,387.3 578.0,386.3 578.5,385.8 579.2,385.1 580.4,384.0 581.3,383.4 581.6,383.0 582.8,380.0 584.0,377.7 584.2,377.2 585.2,379.1 586.4,383.0 586.8,384.1 587.6,385.8 588.8,388.6 589.5,389.8 590.0,390.2 591.2,390.4 592.4,389.7 593.6,389.5 594.8,390.3 595.0,390.3 596.0,390.2 597.2,390.6 598.4,391.5 599.6,391.6 600.8,391.2 602.0,391.5 603.2,391.5 604.4,391.3 605.6,391.2 606.8,391.4 606.8,391.6 608.0,391.5 609.2,391.4 610.4,391.5 611.6,391.3 612.8,391.3 614.0,391.8 615.2,391.8 616.4,391.6 617.6,391.8 618.8,391.4 620.0,390.7 621.2,390.6 622.4,390.8 623.6,390.5 624.8,389.8 626.0,389.5 627.2,389.7 628.4,390.1 629.6,390.9 630.8,391.2 632.0,390.8 633.2,390.2 634.4,389.7 635.6,389.8 636.8,390.5 638.0,391.0 639.2,390.3 640.4,389.4 641.6,389.1 642.8,388.7 644.0,388.5 645.2,388.7 646.4,389.4 647.6,389.7 648.8,389.5 649.0,389.8 650.0,389.8 651.2,389.4 652.4,389.5 653.6,389.0 654.8,388.4 656.0,388.3 657.2,388.2 658.4,388.0 659.6,387.9 660.8,388.1 662.0,387.9 663.2,387.5 664.4,387.2 665.6,387.0 666.8,387.5 668.0,387.9 669.2,387.8 670.4,387.7 671.6,387.5 672.8,387.0 674.0,387.0 675.2,387.5 676.4,387.7 677.6,388.0 678.8,388.2 680.0,387.6 681.2,387.5 682.4,387.5 683.6,386.7 684.8,385.9 686.0,385.8 687.2,386.5 688.4,387.0 689.6,386.7 690.8,386.3 691.3,386.2 692.0,385.8 693.2,385.3 694.4,385.6 695.6,385.7 696.8,385.7 698.0,386.2 699.2,385.3 700.4,384.5 701.6,385.0 702.8,385.5 704.0,385.4 705.2,385.6 706.4,385.8 707.6,385.1 708.8,384.4 710.0,384.8 711.2,385.3 712.4,384.4 713.6,384.0 714.8,384.6 716.0,385.1 717.2,385.1 718.4,384.7 719.6,384.4 720.8,384.7 722.0,384.5 723.2,384.1 724.4,385.2 725.6,385.5 726.8,384.4 728.0,384.3 729.2,384.5 730.4,383.3 731.6,382.5 732.8,382.9 733.5,383.4 734.0,383.8 735.2,384.4 736.4,384.2 737.6,384.0 738.8,385.0 740.0,386.1 741.2,386.2 742.4,386.0 743.6,386.0 744.0,385.8 744.8,385.8 746.0,386.7 747.2,387.8 748.4,388.9 749.6,389.4 750.8,389.3 751.5,389.9 752.0,390.1 753.2,389.1 754.4,388.3 755.6,387.5 756.0,387.5 756.8,387.4 757.5,386.1 758.0,382.4 759.2,362.5 760.4,349.7 760.4,349.5 761.6,364.5 762.8,386.7 763.3,390.1 764.0,390.8 765.2,390.7 766.4,390.9 767.6,391.6 768.8,392.1 769.5,391.4 770.0,390.5 771.2,391.5 772.4,392.4 773.6,392.2 774.8,391.7 776.0,390.8 777.2,389.6 778.4,389.2 779.6,389.6 780.8,390.3 782.0,390.7 783.2,390.6 784.4,390.4 785.6,390.3 786.8,389.8 788.0,389.5 789.2,389.6 790.4,388.5 791.6,387.5 792.8,388.0 794.0,388.0 795.2,387.3 796.4,387.8 797.0,388.1 797.6,387.5 798.8,387.4 800.0,387.8 801.2,388.3 802.4,388.8 803.6,388.3 804.8,387.2 806.0,387.4 807.2,388.5 808.4,389.0 809.6,388.5 810.8,388.3 812.0,388.5 813.2,387.9 814.4,386.9 815.6,386.4 816.8,387.2 818.0,387.7 819.2,386.9 820.0,386.3 820.4,386.3 821.6,386.8 822.8,387.2 824.0,387.0 825.2,387.1 826.4,387.2 827.6,387.3 828.8,387.5 830.0,387.0 831.2,386.1 832.4,385.6 833.6,385.6 834.8,385.9 836.0,386.5 837.2,387.4 838.4,387.1 839.0,385.9 839.6,385.7 840.8,385.7 842.0,384.7 843.2,384.7 844.4,385.1 845.6,384.5 846.8,384.1 848.0,384.4 849.2,384.6 850.4,384.4 851.6,384.3 852.8,384.1 854.0,383.9 855.2,383.6 856.4,382.6 857.6,381.5 858.8,380.9 860.0,380.9 861.2,381.6 862.3,382.1 862.4,381.9 863.6,380.9 864.8,380.3 866.0,380.1 867.2,379.8 868.4,379.1 869.6,378.3 870.0,378.7 870.8,378.4 872.0,376.8 873.2,375.3 874.4,374.1 875.6,373.8 876.0,373.5 876.8,373.4 878.0,375.3 879.2,377.1 880.4,378.2 881.6,378.9 882.3,378.2 882.8,377.5 884.0,376.8 885.2,374.7 886.4,372.6 887.6,372.3 887.6,372.4 888.8,373.2 890.0,375.6 891.2,378.6 892.4,381.5 893.6,383.4 894.0,383.6 894.8,384.2 896.0,385.2 897.2,386.0 898.4,386.1 899.6,385.7 900.8,385.8 901.3,385.6 902.0,384.6 903.2,384.4 904.4,384.2 905.6,383.1 906.8,381.5 908.0,380.2 908.0,380.0 909.2,378.5 910.4,376.7 911.6,375.3 912.8,374.6 914.0,374.5 914.0,373.7 915.2,374.0 916.4,376.4 917.6,379.2 918.8,381.6 919.0,381.8 920.0,383.3 921.2,385.7 922.4,388.3 923.5,390.2 923.6,390.6 924.8,392.5 926.0,393.6 927.2,394.6 928.4,395.7 929.0,396.2 929.6,396.9 930.8,398.3 932.0,399.4 932.5,400.0 933.2,399.0 934.4,395.7 935.6,390.6 936.8,383.9 938.0,376.1 938.3,374.1 939.2,365.6 939.4,362.2 940.2,304.2 940.4,296.0 941.6,244.6 941.6,242.9 942.2,227.1 942.8,243.4 942.9,245.2 944.0,298.4 944.2,306.9 945.0,366.9 945.2,370.4 946.1,379.3 946.4,382.6 947.6,397.0 948.8,406.1 949.0,406.7 950.0,407.7 951.2,408.1 952.4,407.8 953.6,407.2 954.8,407.2 955.2,407.4 956.0,408.2 957.2,408.8 958.4,408.3 959.6,407.7 960.8,407.7 962.0,407.6 963.2,407.4 964.4,407.7 965.6,407.9 966.8,407.6 968.0,407.6 969.2,407.7 970.4,407.3 971.6,407.5 972.8,408.1 974.0,408.6 975.2,408.5 976.4,407.3 977.6,406.9 978.8,408.0 980.0,408.3 981.2,407.3 982.4,406.8 983.6,406.9 984.8,406.8 986.0,406.6 987.2,406.5 988.4,406.5 989.6,406.5 990.8,407.3 992.0,408.2 993.2,408.0 994.4,407.7 995.6,407.2 996.8,406.6 998.0,406.8 999.2,407.6 1000.4,408.1 1001.6,407.9 1002.8,407.2 1004.0,407.0 1005.2,407.7 1006.4,408.5 1007.6,408.4 1008.8,407.2 1010.0,406.2 1011.2,406.5 1012.4,407.5 1013.6,407.4 1014.8,406.9 1016.0,406.4 1017.2,405.6 1018.4,406.0 1019.6,407.3 1020.8,407.6 1022.0,407.1 1023.2,406.9 1024.4,407.6 1025.6,407.9 1026.8,407.0 1028.0,406.8 1029.2,407.0 1030.4,407.2 1031.3,407.2 1031.6,406.9 1032.8,406.7 1034.0,406.8 1035.2,406.8 1036.4,406.9 1037.6,407.3 1038.8,407.3 1040.0,407.0 1041.2,407.1 1042.4,407.6 1043.6,407.3 1044.8,407.2 1046.0,407.6 1047.2,407.6 1048.4,407.4 1049.6,407.1 1050.8,406.8 1052.0,407.5 1053.2,408.2 1054.4,407.5 1055.6,406.8 1056.8,406.9 1058.0,406.9 1059.2,407.0 1060.4,407.1 1061.6,407.1 1062.8,407.7 1064.0,407.9 1065.2,407.9 1066.4,408.2 1067.6,408.5 1068.8,408.0 1070.0,407.0 1071.2,406.6 1072.4,406.4 1073.6,406.9 1074.8,408.0 1076.0,408.4 1077.2,408.3 1078.4,407.7 1079.6,407.6 1080.8,408.0 1082.0,408.6 1083.2,408.5 1084.4,408.7 1085.6,409.3 1086.8,408.4 1088.0,407.5 1089.2,408.0 1090.4,408.2 1090.4,407.9 1091.6,407.7 1092.8,407.8 1094.0,407.5 1095.2,407.1 1095.5,406.5 1096.4,404.6 1096.7,403.9 1097.6,395.9 1098.5,388.9 1098.8,390.2 1100.0,404.4 1100.3,406.0 1101.2,407.3 1102.4,408.2 1103.0,407.6 1103.6,407.8 1104.8,408.5 1106.0,408.6 1107.2,409.0 1107.3,409.8 1108.4,409.9 1109.6,409.2 1110.8,409.0 1112.0,409.6 1113.2,409.2 1114.4,408.3 1115.6,408.2 1116.8,408.7 1118.0,409.5 1119.2,409.1 1120.4,408.0 1121.6,407.5 1122.8,407.9 1124.0,407.7 1125.2,407.6 1126.4,408.0 1127.6,408.0 1128.8,408.5 1130.0,408.3 1131.2,407.3 1132.4,407.0 1133.6,407.0 1134.8,407.5 1136.0,407.8 1137.2,407.6 1138.4,408.0 1139.6,407.5 1140.8,406.7 1142.0,407.2 1143.2,407.3 1144.4,406.7 1145.6,406.5 1146.8,406.7 1148.0,407.3 1149.2,407.2 1150.4,407.0 1151.6,406.9 1152.8,406.3 1154.0,406.7 1155.2,407.4 1156.4,407.3 1157.6,407.2 1158.8,406.8 1160.0,406.1 1160.0,406.2 1161.2,406.3 1162.4,406.0 1163.6,405.7 1164.8,405.4 1166.0,405.5 1167.2,406.1 1168.4,406.7 1169.6,406.3 1170.8,405.7 1172.0,406.1 1173.2,406.0 1174.4,405.5 1175.6,406.0 1176.8,406.6 1178.0,406.6 1179.0,406.7 1179.2,406.8 1180.4,406.6 1181.6,405.5 1182.8,404.5 1184.0,404.8 1185.2,405.4 1186.4,405.4 1187.6,405.6 1188.8,405.6 1190.0,405.6 1191.2,405.5 1192.4,404.8 1193.6,404.6 1194.8,404.2 1196.0,403.9 1197.2,404.1 1198.4,404.1 1199.6,404.0 1200.8,403.6 1202.0,403.5 1202.0,403.5 1203.2,403.6 1204.4,403.5 1205.6,403.5 1206.8,403.7 1208.0,403.3 1209.2,403.4 1210.4,404.4 1211.6,404.8 1212.8,404.6 1214.0,404.9 1215.2,404.9 1216.4,403.8 1217.6,403.1 1218.8,403.5 1220.0,404.2 1221.2,404.6 1222.4,404.8 1223.6,404.7 1224.8,403.9 1226.0,403.3 1227.2,403.8 1227.6,405.0 1228.4,405.1 1229.6,404.2 1230.8,403.4 1232.0,402.7 1233.0,402.2 1233.2,401.7 1234.4,400.1 1234.6,399.9 1235.6,393.5 1236.8,386.7 1236.8,387.0 1238.0,394.0 1239.2,402.2 1239.2,401.8 1240.4,402.3 1241.6,403.5 1242.8,404.9 1244.0,404.7 1244.5,404.7 1245.2,405.0 1246.4,404.9 1247.6,404.8 1248.8,404.0 1250.0,403.4 1251.2,403.5 1252.4,403.8 1253.6,404.5 1254.8,404.9 1256.0,404.7 1257.2,405.1 1258.4,405.8 1259.6,405.4 1260.8,404.9 1262.0,405.0 1263.2,404.6 1264.4,404.4 1265.6,404.8 1266.8,405.3 1268.0,405.4 1269.2,405.0 1270.4,404.3 1271.6,404.4 1272.8,405.1 1274.0,404.8 1275.2,404.6 1276.4,405.0 1277.6,404.7 1278.8,403.6 1280.0,403.3 1281.2,403.5 1282.4,403.0 1283.6,402.5 1284.8,402.3 1286.0,402.2 1287.2,403.0 1288.4,403.7 1289.6,403.3 1290.8,402.8 1291.0,403.0 1292.0,402.2 1293.2,400.8 1294.4,399.5 1295.0,399.1 1295.6,398.7 1296.8,396.6 1298.0,394.3 1298.4,394.4 1299.2,395.7 1300.4,397.1 1301.6,398.5 1302.0,398.7 1302.8,399.6 1304.0,400.5 1305.2,401.7 1305.8,402.9 1306.4,403.2 1307.6,402.7 1308.8,402.2 1310.0,401.6 1311.2,401.6 1312.4,402.1 1313.6,401.9 1314.8,401.2 1316.0,400.8 1317.2,401.3 1318.4,401.5 1319.6,401.0 1320.8,401.2 1322.0,401.8 1323.2,401.5 1324.4,400.6 1325.6,400.2 1326.8,400.2 1328.0,400.8 1329.2,401.1 1330.4,401.0 1331.6,401.0 1332.8,400.3 1334.0,400.1 1335.2,400.5 1336.4,400.1 1337.6,399.6 1338.8,399.9 1340.0,399.7 1341.2,399.1 1342.4,399.3 1343.6,399.6 1344.8,399.7 1346.0,399.9 1347.2,399.5 1348.4,399.4 1349.6,399.8 1350.0,400.0 1350.8,400.1 1352.0,400.2 1353.2,400.0 1354.4,400.1 1355.6,399.8 1356.8,399.9 1358.0,400.8 1359.2,401.6 1360.4,401.3 1361.6,400.9 1362.8,401.1 1364.0,400.7 1365.2,400.4 1366.4,400.8 1367.0,401.2 1367.6,401.1 1368.8,400.2 1370.0,399.3 1371.0,398.2 1371.2,397.8 1372.3,394.0 1372.4,393.6 1373.6,386.8 1374.5,384.2 1374.8,384.5 1376.0,393.8 1376.9,400.0 1377.2,400.9 1378.4,404.3 1379.6,406.9 1380.8,408.4 1380.8,408.4 1382.0,409.3 1383.2,409.8 1384.4,409.3 1385.0,408.8 1385.6,409.2 1386.8,408.7 1388.0,407.6 1389.2,406.5 1389.5,406.2 1390.4,404.1 1391.6,399.4 1391.9,398.0 1392.8,389.8 1394.0,376.9 1394.5,375.1 1395.2,379.9 1396.4,397.6 1396.9,401.9 1397.6,404.8 1398.8,409.0 1400.0,411.5 1400.9,412.1 1401.2,412.1 1402.4,411.9 1403.6,411.9 1404.8,412.8 1406.0,413.5 1407.2,413.5 1408.4,414.0 1409.6,414.9 1410.8,415.1 1412.0,414.9 1413.2,415.2 1413.5,415.2 1414.4,414.3 1415.6,414.3 1416.8,415.0 1418.0,414.7 1419.2,414.9 1420.4,416.0 1421.6,416.1 1422.8,415.4 1424.0,415.3 1424.0,415.8 1425.2,416.5 1426.4,416.1 1427.6,414.6 1428.8,413.4 1429.0,412.9 1430.0,412.6 1431.2,412.4 1432.4,412.3 1433.6,411.7 1433.6,410.9 1434.8,411.5 1436.0,413.1 1437.2,414.9 1438.0,416.1 1438.4,416.9 1439.6,418.7 1440.8,420.0 1442.0,420.6 1443.0,420.9 1443.2,421.7 1444.4,423.0 1445.6,423.2 1446.8,423.1 1447.0,423.1 1448.0,422.4 1449.2,421.5 1450.4,420.1 1450.5,419.9 1451.6,416.2 1452.8,409.3 1453.0,408.0 1454.0,397.2 1455.2,385.3 1455.4,385.2 1456.4,396.1 1457.6,414.0 1457.6,414.0 1458.8,420.4 1460.0,424.9 1461.0,426.0 1461.2,425.8 1462.4,426.1 1463.6,426.4 1464.8,426.7 1466.0,426.8 1467.2,426.3 1468.4,425.5 1469.6,425.5 1470.8,425.9 1472.0,426.5 1473.2,427.2 1474.4,426.6 1475.6,425.3 1476.8,424.9 1478.0,424.3 1479.2,424.3 1480.4,425.3 1481.6,425.3 1482.8,425.1 1484.0,425.4 1485.2,424.7 1486.4,424.4 1487.5,425.1 1487.6,425.2 1488.8,425.0 1490.0,425.1 1491.2,425.2 1492.4,425.3 1493.6,424.9 1494.8,424.4 1496.0,424.9 1497.2,425.8 1498.4,426.1 1499.6,426.7 1500.8,427.2 1502.0,426.9 1503.2,427.3 1504.4,428.1 1505.6,428.2 1506.8,428.4 1507.0,428.4 1508.0,427.7 1509.2,426.8 1510.4,426.1 1511.6,426.0 1512.8,426.6 1514.0,426.6 1515.2,426.3 1516.4,426.1 1517.6,425.9 1518.8,426.0 1520.0,425.7 1521.2,425.4 1522.4,425.3 1523.0,425.8 1523.6,426.1 1524.8,425.4 1526.0,425.9 1527.2,427.1 1528.4,427.4 1529.6,427.8 1530.8,428.4 1532.0,427.9 1533.2,427.7 1533.8,428.1 1534.4,427.3 1535.6,426.9 1536.8,427.4 1538.0,427.2 1539.0,426.4 1539.2,425.9 1540.4,424.9 1541.6,424.1 1542.8,424.0 1544.0,423.8 1544.5,422.9 1545.2,422.4 1546.4,424.0 1547.6,425.9 1548.8,427.2 1549.0,427.0 1550.0,427.6 1551.2,428.8 1552.4,430.2 1553.4,430.7 1553.6,430.4 1554.8,430.4 1556.0,430.2 1557.2,429.2 1558.4,428.4 1559.6,428.2 1560.8,428.4 1562.0,428.5 1563.2,428.2 1564.0,427.3 1564.4,427.0 1565.6,427.9 1566.8,428.0 1568.0,427.6 1569.2,427.7 1570.0,427.9 1570.4,428.3 1571.6,429.1 1572.8,429.6 1574.0,429.9 1575.0,431.0 1575.2,431.9 1576.4,432.0 1577.6,431.9 1578.8,432.3 1580.0,432.4 1581.2,432.0"/>
</g>
<g class="dash">
<line x1="761.5" y1="97.6" x2="761.5" y2="1118.8"/>
<line x1="942.5" y1="95.6" x2="942.5" y2="1116.8"/>
<line x1="1098.5" y1="97.6" x2="1098.5" y2="1118.8"/>
<line x1="1238.5" y1="95.6" x2="1238.5" y2="1116.8"/>
<line x1="1388.5" y1="97.6" x2="1388.5" y2="1118.8"/>
<line x1="1456.6" y1="173.2" x2="1454.7" y2="1116.9"/>
</g>
<g class="tick">
<text x="146.5" y="1212.6">1200</text>
<text x="384.7" y="1212.6">1000</text>
<text x="622.8" y="1212.6">800</text>
<text x="861.0" y="1212.6">600</text>
<text x="1099.2" y="1212.6">400</text>
<text x="1337.3" y="1212.6">200</text>
<text x="1575.5" y="1212.6">0</text>
</g>
<text class="title" x="861.5" y="1342">Binding energy (eV)</text>
<text class="title" style="font-size:88.7px" transform="translate(72.6 599.9) rotate(-90)">Intensity (arb. units)</text>
<text class="pk" x="731.0" y="69.9">F<tspan class="s" dx="0.5" dy="14.3">1s</tspan></text>
<text class="pk" x="906.8" y="69.9">O<tspan class="s" dx="0.5" dy="14.3">1s</tspan></text>
<text class="pk" x="1068.6" y="69.9">N<tspan class="s" dx="0.5" dy="14.3">1s</tspan></text>
<text class="pk" x="1201.0" y="67.4">C<tspan class="s" dx="0.5" dy="14.3">1s</tspan></text>
<text class="pk" x="1340.6" y="69.9">Si<tspan class="s" dx="-0.8" dy="14.0">2s</tspan></text>
<text class="pk" x="1417.0" y="149.9">Si<tspan class="s" dx="-1.6" dy="14.0">2p</tspan></text>
<text class="lab" x="1584.3" y="441.4">S<tspan class="s" dx="0.8" dy="17.8">B</tspan></text>
<text class="lab" x="1582.4" y="655.1">S<tspan class="s" dx="0.8" dy="18.5">M</tspan></text>
<text class="lab" x="1587.3" y="869.0">S<tspan class="s" dx="0.8" dy="18.5">T</tspan></text>
<text class="lab" x="1584.6" y="1093.2">S<tspan class="s" dx="0.8" dy="17.8">ref</tspan></text>
</svg>
</body>
</html>
